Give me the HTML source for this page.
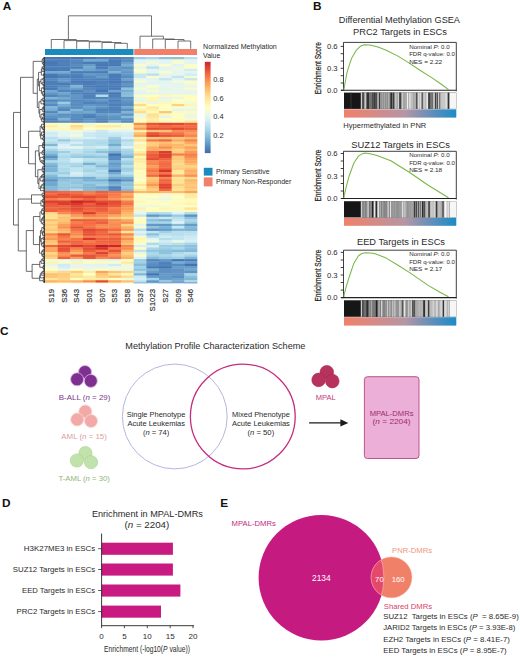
<!DOCTYPE html>
<html><head><meta charset="utf-8"><style>
html,body{margin:0;padding:0;background:#fff;}
body{width:520px;height:657px;overflow:hidden;}
svg{display:block;font-family:"Liberation Sans",sans-serif;}
</style></head><body>
<svg width="520" height="657" viewBox="0 0 520 657" font-family="Liberation Sans, sans-serif">
<rect width="520" height="657" fill="#fff"/>
<defs>
<linearGradient id="cb" x1="0" y1="1" x2="0" y2="0">
<stop offset="0.000" stop-color="#4168ae"/>
<stop offset="0.050" stop-color="#4f81ba"/>
<stop offset="0.100" stop-color="#6399c7"/>
<stop offset="0.150" stop-color="#77b0d2"/>
<stop offset="0.200" stop-color="#8ec2dd"/>
<stop offset="0.250" stop-color="#a6d5e7"/>
<stop offset="0.300" stop-color="#bce1ee"/>
<stop offset="0.350" stop-color="#d2ecf4"/>
<stop offset="0.400" stop-color="#e5f5ef"/>
<stop offset="0.450" stop-color="#f2fad7"/>
<stop offset="0.500" stop-color="#ffffbf"/>
<stop offset="0.550" stop-color="#fff2ab"/>
<stop offset="0.600" stop-color="#fee598"/>
<stop offset="0.650" stop-color="#fed384"/>
<stop offset="0.700" stop-color="#fdbe70"/>
<stop offset="0.750" stop-color="#fca85e"/>
<stop offset="0.800" stop-color="#f88c51"/>
<stop offset="0.850" stop-color="#f57145"/>
<stop offset="0.900" stop-color="#ea5739"/>
<stop offset="0.950" stop-color="#dd3d2d"/>
<stop offset="1.000" stop-color="#cd2627"/>
</linearGradient>
<linearGradient id="gs" x1="0" y1="0" x2="1" y2="0"><stop offset="0" stop-color="#f0806a"/><stop offset="0.25" stop-color="#d88a84"/><stop offset="0.55" stop-color="#b396a6"/><stop offset="0.8" stop-color="#5a8ebc"/><stop offset="1" stop-color="#1a8cc6"/></linearGradient>
<linearGradient id="bcbase" x1="0" y1="0" x2="1" y2="0"><stop offset="0" stop-color="#6a6a6a"/><stop offset="0.45" stop-color="#9a9a9a"/><stop offset="1" stop-color="#cfcfcf"/></linearGradient>
<filter id="soft" x="-2%" y="-2%" width="104%" height="104%"><feGaussianBlur stdDeviation="0.45"/></filter>
<filter id="soft2" x="-2%" y="-2%" width="104%" height="104%"><feGaussianBlur stdDeviation="0.35"/></filter>
<clipPath id="cpE"><circle cx="321.3" cy="577.7" r="62.7"/></clipPath>
<clipPath id="cpS"><circle cx="391.5" cy="577.35" r="20.4"/></clipPath>
</defs>
<text x="2.8" y="9.6" font-size="11.80" text-anchor="start" fill="#111" font-weight="bold">A</text>
<path d="M68.4,39.5 V15.8 H151.5 V36.2" fill="none" stroke="#444" stroke-width="0.75"/>
<path d="M114.7,48.8 V43.3 H127.3 V48.8" fill="none" stroke="#444" stroke-width="0.75"/>
<path d="M102.0,48.8 V42.5 H121.0 V43.3" fill="none" stroke="#444" stroke-width="0.75"/>
<path d="M89.3,48.8 V41.8 H111.5 V42.5" fill="none" stroke="#444" stroke-width="0.75"/>
<path d="M76.7,48.8 V41.2 H100.4 V41.8" fill="none" stroke="#444" stroke-width="0.75"/>
<path d="M64.0,48.8 V40.6 H88.5 V41.2" fill="none" stroke="#444" stroke-width="0.75"/>
<path d="M51.3,48.8 V39.5 H76.3 V40.6" fill="none" stroke="#444" stroke-width="0.75"/>
<path d="M140.0,48.8 V36.2 H163.4 V39.0" fill="none" stroke="#444" stroke-width="0.75"/>
<path d="M152.7,48.8 V39.0 H174.5 V39.5" fill="none" stroke="#444" stroke-width="0.75"/>
<path d="M165.3,48.8 V39.5 H184.0 V41.0" fill="none" stroke="#444" stroke-width="0.75"/>
<path d="M178.0,48.8 V41.0 H190.7 V48.8" fill="none" stroke="#444" stroke-width="0.75"/>
<rect x="45" y="49" width="88.5" height="6" fill="#1a8bbf"/>
<rect x="134.2" y="49" width="62.8" height="6" fill="#f17f6a"/>
<g filter="url(#soft)">
<rect x="45.00" y="57.00" width="12.97" height="2.65" fill="#4677b5"/>
<rect x="57.67" y="57.00" width="12.97" height="2.65" fill="#4676b4"/>
<rect x="70.33" y="57.00" width="12.97" height="2.65" fill="#4472b2"/>
<rect x="83.00" y="57.00" width="12.97" height="2.65" fill="#4677b5"/>
<rect x="95.67" y="57.00" width="12.97" height="2.65" fill="#4f81ba"/>
<rect x="108.33" y="57.00" width="12.97" height="2.65" fill="#4b7cb7"/>
<rect x="121.00" y="57.00" width="12.97" height="2.65" fill="#5386bd"/>
<rect x="133.67" y="57.00" width="12.97" height="2.65" fill="#9bcde2"/>
<rect x="146.33" y="57.00" width="12.97" height="2.65" fill="#a8d6e7"/>
<rect x="159.00" y="57.00" width="12.97" height="2.65" fill="#90c3dd"/>
<rect x="171.67" y="57.00" width="12.97" height="2.65" fill="#8dc1dc"/>
<rect x="184.33" y="57.00" width="12.97" height="2.65" fill="#b6deec"/>
<rect x="45.00" y="59.35" width="12.97" height="2.65" fill="#4e7fb9"/>
<rect x="57.67" y="59.35" width="12.97" height="2.65" fill="#4d7eb9"/>
<rect x="70.33" y="59.35" width="12.97" height="2.65" fill="#578bbf"/>
<rect x="83.00" y="59.35" width="12.97" height="2.65" fill="#73acd1"/>
<rect x="95.67" y="59.35" width="12.97" height="2.65" fill="#70a8cf"/>
<rect x="108.33" y="59.35" width="12.97" height="2.65" fill="#497ab7"/>
<rect x="121.00" y="59.35" width="12.97" height="2.65" fill="#5487bd"/>
<rect x="133.67" y="59.35" width="12.97" height="2.65" fill="#e2f4f3"/>
<rect x="146.33" y="59.35" width="12.97" height="2.65" fill="#e6f5ee"/>
<rect x="159.00" y="59.35" width="12.97" height="2.65" fill="#e5f5ef"/>
<rect x="171.67" y="59.35" width="12.97" height="2.65" fill="#f6fbd0"/>
<rect x="184.33" y="59.35" width="12.97" height="2.65" fill="#e6f5ed"/>
<rect x="45.00" y="61.70" width="12.97" height="2.65" fill="#4777b5"/>
<rect x="57.67" y="61.70" width="12.97" height="2.65" fill="#4f81ba"/>
<rect x="70.33" y="61.70" width="12.97" height="2.65" fill="#5284bc"/>
<rect x="83.00" y="61.70" width="12.97" height="2.65" fill="#4b7cb8"/>
<rect x="95.67" y="61.70" width="12.97" height="2.65" fill="#4a7bb7"/>
<rect x="108.33" y="61.70" width="12.97" height="2.65" fill="#4a7bb7"/>
<rect x="121.00" y="61.70" width="12.97" height="2.65" fill="#699fca"/>
<rect x="133.67" y="61.70" width="12.97" height="2.65" fill="#e5f5ef"/>
<rect x="146.33" y="61.70" width="12.97" height="2.65" fill="#f2fad7"/>
<rect x="159.00" y="61.70" width="12.97" height="2.65" fill="#e2f4f5"/>
<rect x="171.67" y="61.70" width="12.97" height="2.65" fill="#f5fbd2"/>
<rect x="184.33" y="61.70" width="12.97" height="2.65" fill="#e2f4f4"/>
<rect x="45.00" y="64.05" width="12.97" height="2.65" fill="#4677b5"/>
<rect x="57.67" y="64.05" width="12.97" height="2.65" fill="#4c7db8"/>
<rect x="70.33" y="64.05" width="12.97" height="2.65" fill="#578abf"/>
<rect x="83.00" y="64.05" width="12.97" height="2.65" fill="#649ac7"/>
<rect x="95.67" y="64.05" width="12.97" height="2.65" fill="#4676b4"/>
<rect x="108.33" y="64.05" width="12.97" height="2.65" fill="#4677b5"/>
<rect x="121.00" y="64.05" width="12.97" height="2.65" fill="#76aed2"/>
<rect x="133.67" y="64.05" width="12.97" height="2.65" fill="#fafdc9"/>
<rect x="146.33" y="64.05" width="12.97" height="2.65" fill="#e5f5ef"/>
<rect x="159.00" y="64.05" width="12.97" height="2.65" fill="#fdfec4"/>
<rect x="171.67" y="64.05" width="12.97" height="2.65" fill="#e1f3f6"/>
<rect x="184.33" y="64.05" width="12.97" height="2.65" fill="#fafdc8"/>
<rect x="45.00" y="66.40" width="12.97" height="2.65" fill="#4e80ba"/>
<rect x="57.67" y="66.40" width="12.97" height="2.65" fill="#4d7fb9"/>
<rect x="70.33" y="66.40" width="12.97" height="2.65" fill="#4c7eb8"/>
<rect x="83.00" y="66.40" width="12.97" height="2.65" fill="#72aad0"/>
<rect x="95.67" y="66.40" width="12.97" height="2.65" fill="#4879b6"/>
<rect x="108.33" y="66.40" width="12.97" height="2.65" fill="#649ac7"/>
<rect x="121.00" y="66.40" width="12.97" height="2.65" fill="#5c90c2"/>
<rect x="133.67" y="66.40" width="12.97" height="2.65" fill="#e6f5ed"/>
<rect x="146.33" y="66.40" width="12.97" height="2.65" fill="#bae1ed"/>
<rect x="159.00" y="66.40" width="12.97" height="2.65" fill="#e1f3f6"/>
<rect x="171.67" y="66.40" width="12.97" height="2.65" fill="#ebf7e4"/>
<rect x="184.33" y="66.40" width="12.97" height="2.65" fill="#fbfec6"/>
<rect x="45.00" y="68.75" width="12.97" height="2.65" fill="#4878b6"/>
<rect x="57.67" y="68.75" width="12.97" height="2.65" fill="#4c7db8"/>
<rect x="70.33" y="68.75" width="12.97" height="2.65" fill="#75aed1"/>
<rect x="83.00" y="68.75" width="12.97" height="2.65" fill="#6da4cc"/>
<rect x="95.67" y="68.75" width="12.97" height="2.65" fill="#6297c6"/>
<rect x="108.33" y="68.75" width="12.97" height="2.65" fill="#6197c6"/>
<rect x="121.00" y="68.75" width="12.97" height="2.65" fill="#6ca3cc"/>
<rect x="133.67" y="68.75" width="12.97" height="2.65" fill="#f9fdc9"/>
<rect x="146.33" y="68.75" width="12.97" height="2.65" fill="#e6f5ed"/>
<rect x="159.00" y="68.75" width="12.97" height="2.65" fill="#e7f6ec"/>
<rect x="171.67" y="68.75" width="12.97" height="2.65" fill="#e9f6e8"/>
<rect x="184.33" y="68.75" width="12.97" height="2.65" fill="#d2ecf4"/>
<rect x="45.00" y="71.10" width="12.97" height="2.65" fill="#72abd0"/>
<rect x="57.67" y="71.10" width="12.97" height="2.65" fill="#73acd0"/>
<rect x="70.33" y="71.10" width="12.97" height="2.65" fill="#4b7cb7"/>
<rect x="83.00" y="71.10" width="12.97" height="2.65" fill="#4b7cb8"/>
<rect x="95.67" y="71.10" width="12.97" height="2.65" fill="#4a7bb7"/>
<rect x="108.33" y="71.10" width="12.97" height="2.65" fill="#79b1d3"/>
<rect x="121.00" y="71.10" width="12.97" height="2.65" fill="#6196c5"/>
<rect x="133.67" y="71.10" width="12.97" height="2.65" fill="#f8fccc"/>
<rect x="146.33" y="71.10" width="12.97" height="2.65" fill="#e3f4f2"/>
<rect x="159.00" y="71.10" width="12.97" height="2.65" fill="#fafdc7"/>
<rect x="171.67" y="71.10" width="12.97" height="2.65" fill="#e5f5ef"/>
<rect x="184.33" y="71.10" width="12.97" height="2.65" fill="#e2f4f4"/>
<rect x="45.00" y="73.45" width="12.97" height="2.65" fill="#497ab7"/>
<rect x="57.67" y="73.45" width="12.97" height="2.65" fill="#5689be"/>
<rect x="70.33" y="73.45" width="12.97" height="2.65" fill="#5082bb"/>
<rect x="83.00" y="73.45" width="12.97" height="2.65" fill="#6399c7"/>
<rect x="95.67" y="73.45" width="12.97" height="2.65" fill="#5e93c3"/>
<rect x="108.33" y="73.45" width="12.97" height="2.65" fill="#4a7bb7"/>
<rect x="121.00" y="73.45" width="12.97" height="2.65" fill="#6398c6"/>
<rect x="133.67" y="73.45" width="12.97" height="2.65" fill="#cae8f2"/>
<rect x="146.33" y="73.45" width="12.97" height="2.65" fill="#bae0ed"/>
<rect x="159.00" y="73.45" width="12.97" height="2.65" fill="#e6f5ec"/>
<rect x="171.67" y="73.45" width="12.97" height="2.65" fill="#e6f5ed"/>
<rect x="184.33" y="73.45" width="12.97" height="2.65" fill="#d2ecf4"/>
<rect x="45.00" y="75.80" width="12.97" height="2.65" fill="#4676b5"/>
<rect x="57.67" y="75.80" width="12.97" height="2.65" fill="#4d7eb9"/>
<rect x="70.33" y="75.80" width="12.97" height="2.65" fill="#4c7db8"/>
<rect x="83.00" y="75.80" width="12.97" height="2.65" fill="#5588be"/>
<rect x="95.67" y="75.80" width="12.97" height="2.65" fill="#669dc9"/>
<rect x="108.33" y="75.80" width="12.97" height="2.65" fill="#4b7cb8"/>
<rect x="121.00" y="75.80" width="12.97" height="2.65" fill="#598dc0"/>
<rect x="133.67" y="75.80" width="12.97" height="2.65" fill="#c8e7f1"/>
<rect x="146.33" y="75.80" width="12.97" height="2.65" fill="#fafdc9"/>
<rect x="159.00" y="75.80" width="12.97" height="2.65" fill="#e6f5ed"/>
<rect x="171.67" y="75.80" width="12.97" height="2.65" fill="#c3e5f0"/>
<rect x="184.33" y="75.80" width="12.97" height="2.65" fill="#f7fcce"/>
<rect x="45.00" y="78.15" width="12.97" height="2.65" fill="#5588be"/>
<rect x="57.67" y="78.15" width="12.97" height="2.65" fill="#6298c6"/>
<rect x="70.33" y="78.15" width="12.97" height="2.65" fill="#4f81ba"/>
<rect x="83.00" y="78.15" width="12.97" height="2.65" fill="#5183bb"/>
<rect x="95.67" y="78.15" width="12.97" height="2.65" fill="#4e80ba"/>
<rect x="108.33" y="78.15" width="12.97" height="2.65" fill="#4979b6"/>
<rect x="121.00" y="78.15" width="12.97" height="2.65" fill="#6ba2cb"/>
<rect x="133.67" y="78.15" width="12.97" height="2.65" fill="#e7f6eb"/>
<rect x="146.33" y="78.15" width="12.97" height="2.65" fill="#e3f4f2"/>
<rect x="159.00" y="78.15" width="12.97" height="2.65" fill="#c4e5f0"/>
<rect x="171.67" y="78.15" width="12.97" height="2.65" fill="#e1f3f7"/>
<rect x="184.33" y="78.15" width="12.97" height="2.65" fill="#c5e6f0"/>
<rect x="45.00" y="80.50" width="12.97" height="2.65" fill="#4d7fb9"/>
<rect x="57.67" y="80.50" width="12.97" height="2.65" fill="#6095c5"/>
<rect x="70.33" y="80.50" width="12.97" height="2.65" fill="#4a7bb7"/>
<rect x="83.00" y="80.50" width="12.97" height="2.65" fill="#4a7bb7"/>
<rect x="95.67" y="80.50" width="12.97" height="2.65" fill="#4e80ba"/>
<rect x="108.33" y="80.50" width="12.97" height="2.65" fill="#4777b5"/>
<rect x="121.00" y="80.50" width="12.97" height="2.65" fill="#5588be"/>
<rect x="133.67" y="80.50" width="12.97" height="2.65" fill="#f8fccb"/>
<rect x="146.33" y="80.50" width="12.97" height="2.65" fill="#e2f4f3"/>
<rect x="159.00" y="80.50" width="12.97" height="2.65" fill="#e4f4f1"/>
<rect x="171.67" y="80.50" width="12.97" height="2.65" fill="#f4fbd3"/>
<rect x="184.33" y="80.50" width="12.97" height="2.65" fill="#f9fdcb"/>
<rect x="45.00" y="82.85" width="12.97" height="2.65" fill="#4d7fb9"/>
<rect x="57.67" y="82.85" width="12.97" height="2.65" fill="#4a7bb7"/>
<rect x="70.33" y="82.85" width="12.97" height="2.65" fill="#5284bc"/>
<rect x="83.00" y="82.85" width="12.97" height="2.65" fill="#4b7db8"/>
<rect x="95.67" y="82.85" width="12.97" height="2.65" fill="#5183bb"/>
<rect x="108.33" y="82.85" width="12.97" height="2.65" fill="#5082bb"/>
<rect x="121.00" y="82.85" width="12.97" height="2.65" fill="#6095c5"/>
<rect x="133.67" y="82.85" width="12.97" height="2.65" fill="#e3f4f3"/>
<rect x="146.33" y="82.85" width="12.97" height="2.65" fill="#e4f4f2"/>
<rect x="159.00" y="82.85" width="12.97" height="2.65" fill="#e5f5ef"/>
<rect x="171.67" y="82.85" width="12.97" height="2.65" fill="#e2f4f4"/>
<rect x="184.33" y="82.85" width="12.97" height="2.65" fill="#f3fad5"/>
<rect x="45.00" y="85.20" width="12.97" height="2.65" fill="#4e80ba"/>
<rect x="57.67" y="85.20" width="12.97" height="2.65" fill="#5588be"/>
<rect x="70.33" y="85.20" width="12.97" height="2.65" fill="#7eb5d5"/>
<rect x="83.00" y="85.20" width="12.97" height="2.65" fill="#4c7db8"/>
<rect x="95.67" y="85.20" width="12.97" height="2.65" fill="#4777b5"/>
<rect x="108.33" y="85.20" width="12.97" height="2.65" fill="#4979b6"/>
<rect x="121.00" y="85.20" width="12.97" height="2.65" fill="#5689be"/>
<rect x="133.67" y="85.20" width="12.97" height="2.65" fill="#e6f5ec"/>
<rect x="146.33" y="85.20" width="12.97" height="2.65" fill="#fdfec2"/>
<rect x="159.00" y="85.20" width="12.97" height="2.65" fill="#e5f5ef"/>
<rect x="171.67" y="85.20" width="12.97" height="2.65" fill="#e3f4f3"/>
<rect x="184.33" y="85.20" width="12.97" height="2.65" fill="#e8f6e9"/>
<rect x="45.00" y="87.55" width="12.97" height="2.65" fill="#4879b6"/>
<rect x="57.67" y="87.55" width="12.97" height="2.65" fill="#649ac7"/>
<rect x="70.33" y="87.55" width="12.97" height="2.65" fill="#69a0ca"/>
<rect x="83.00" y="87.55" width="12.97" height="2.65" fill="#5486bd"/>
<rect x="95.67" y="87.55" width="12.97" height="2.65" fill="#5082bb"/>
<rect x="108.33" y="87.55" width="12.97" height="2.65" fill="#4a7bb7"/>
<rect x="121.00" y="87.55" width="12.97" height="2.65" fill="#8ec2dc"/>
<rect x="133.67" y="87.55" width="12.97" height="2.65" fill="#f6fccf"/>
<rect x="146.33" y="87.55" width="12.97" height="2.65" fill="#e9f7e7"/>
<rect x="159.00" y="87.55" width="12.97" height="2.65" fill="#e6f5ec"/>
<rect x="171.67" y="87.55" width="12.97" height="2.65" fill="#e9f6e8"/>
<rect x="184.33" y="87.55" width="12.97" height="2.65" fill="#f7fcce"/>
<rect x="45.00" y="89.90" width="12.97" height="2.65" fill="#72abd0"/>
<rect x="57.67" y="89.90" width="12.97" height="2.65" fill="#5285bc"/>
<rect x="70.33" y="89.90" width="12.97" height="2.65" fill="#4f81ba"/>
<rect x="83.00" y="89.90" width="12.97" height="2.65" fill="#5e92c3"/>
<rect x="95.67" y="89.90" width="12.97" height="2.65" fill="#4575b4"/>
<rect x="108.33" y="89.90" width="12.97" height="2.65" fill="#6ca4cc"/>
<rect x="121.00" y="89.90" width="12.97" height="2.65" fill="#76aed2"/>
<rect x="133.67" y="89.90" width="12.97" height="2.65" fill="#e7f6eb"/>
<rect x="146.33" y="89.90" width="12.97" height="2.65" fill="#f8fccc"/>
<rect x="159.00" y="89.90" width="12.97" height="2.65" fill="#e8f6e9"/>
<rect x="171.67" y="89.90" width="12.97" height="2.65" fill="#e7f6eb"/>
<rect x="184.33" y="89.90" width="12.97" height="2.65" fill="#e5f5ef"/>
<rect x="45.00" y="92.25" width="12.97" height="2.65" fill="#5f94c4"/>
<rect x="57.67" y="92.25" width="12.97" height="2.65" fill="#6fa7ce"/>
<rect x="70.33" y="92.25" width="12.97" height="2.65" fill="#5184bc"/>
<rect x="83.00" y="92.25" width="12.97" height="2.65" fill="#4d7fb9"/>
<rect x="95.67" y="92.25" width="12.97" height="2.65" fill="#5082bb"/>
<rect x="108.33" y="92.25" width="12.97" height="2.65" fill="#4576b4"/>
<rect x="121.00" y="92.25" width="12.97" height="2.65" fill="#84bad8"/>
<rect x="133.67" y="92.25" width="12.97" height="2.65" fill="#e0f3f7"/>
<rect x="146.33" y="92.25" width="12.97" height="2.65" fill="#e4f5f1"/>
<rect x="159.00" y="92.25" width="12.97" height="2.65" fill="#e5f5ee"/>
<rect x="171.67" y="92.25" width="12.97" height="2.65" fill="#e5f5f0"/>
<rect x="184.33" y="92.25" width="12.97" height="2.65" fill="#e2f4f4"/>
<rect x="45.00" y="94.60" width="12.97" height="2.65" fill="#5183bb"/>
<rect x="57.67" y="94.60" width="12.97" height="2.65" fill="#5f93c4"/>
<rect x="70.33" y="94.60" width="12.97" height="2.65" fill="#6298c6"/>
<rect x="83.00" y="94.60" width="12.97" height="2.65" fill="#4f81ba"/>
<rect x="95.67" y="94.60" width="12.97" height="2.65" fill="#b0dceb"/>
<rect x="108.33" y="94.60" width="12.97" height="2.65" fill="#4e80ba"/>
<rect x="121.00" y="94.60" width="12.97" height="2.65" fill="#8bbfdb"/>
<rect x="133.67" y="94.60" width="12.97" height="2.65" fill="#fffdbb"/>
<rect x="146.33" y="94.60" width="12.97" height="2.65" fill="#ffffbf"/>
<rect x="159.00" y="94.60" width="12.97" height="2.65" fill="#fff9b6"/>
<rect x="171.67" y="94.60" width="12.97" height="2.65" fill="#fffcbb"/>
<rect x="184.33" y="94.60" width="12.97" height="2.65" fill="#fffcba"/>
<rect x="45.00" y="96.95" width="12.97" height="2.65" fill="#80b7d6"/>
<rect x="57.67" y="96.95" width="12.97" height="2.65" fill="#72abd0"/>
<rect x="70.33" y="96.95" width="12.97" height="2.65" fill="#5f94c4"/>
<rect x="83.00" y="96.95" width="12.97" height="2.65" fill="#5183bb"/>
<rect x="95.67" y="96.95" width="12.97" height="2.65" fill="#5386bd"/>
<rect x="108.33" y="96.95" width="12.97" height="2.65" fill="#5689be"/>
<rect x="121.00" y="96.95" width="12.97" height="2.65" fill="#5e93c4"/>
<rect x="133.67" y="96.95" width="12.97" height="2.65" fill="#eef8de"/>
<rect x="146.33" y="96.95" width="12.97" height="2.65" fill="#fff8b4"/>
<rect x="159.00" y="96.95" width="12.97" height="2.65" fill="#e3f4f3"/>
<rect x="171.67" y="96.95" width="12.97" height="2.65" fill="#eaf7e5"/>
<rect x="184.33" y="96.95" width="12.97" height="2.65" fill="#fffebd"/>
<rect x="45.00" y="99.30" width="12.97" height="2.65" fill="#5385bc"/>
<rect x="57.67" y="99.30" width="12.97" height="2.65" fill="#5b90c2"/>
<rect x="70.33" y="99.30" width="12.97" height="2.65" fill="#5588be"/>
<rect x="83.00" y="99.30" width="12.97" height="2.65" fill="#5b8fc1"/>
<rect x="95.67" y="99.30" width="12.97" height="2.65" fill="#6499c7"/>
<rect x="108.33" y="99.30" width="12.97" height="2.65" fill="#4c7eb8"/>
<rect x="121.00" y="99.30" width="12.97" height="2.65" fill="#5f94c4"/>
<rect x="133.67" y="99.30" width="12.97" height="2.65" fill="#e6f5ee"/>
<rect x="146.33" y="99.30" width="12.97" height="2.65" fill="#fff5b0"/>
<rect x="159.00" y="99.30" width="12.97" height="2.65" fill="#e9f7e7"/>
<rect x="171.67" y="99.30" width="12.97" height="2.65" fill="#fdfec3"/>
<rect x="184.33" y="99.30" width="12.97" height="2.65" fill="#fffdbc"/>
<rect x="45.00" y="101.65" width="12.97" height="2.65" fill="#679dc9"/>
<rect x="57.67" y="101.65" width="12.97" height="2.65" fill="#9bcce2"/>
<rect x="70.33" y="101.65" width="12.97" height="2.65" fill="#5b8fc2"/>
<rect x="83.00" y="101.65" width="12.97" height="2.65" fill="#5082bb"/>
<rect x="95.67" y="101.65" width="12.97" height="2.65" fill="#5386bd"/>
<rect x="108.33" y="101.65" width="12.97" height="2.65" fill="#5588be"/>
<rect x="121.00" y="101.65" width="12.97" height="2.65" fill="#5b90c2"/>
<rect x="133.67" y="101.65" width="12.97" height="2.65" fill="#fffbb9"/>
<rect x="146.33" y="101.65" width="12.97" height="2.65" fill="#e8f6ea"/>
<rect x="159.00" y="101.65" width="12.97" height="2.65" fill="#fff7b3"/>
<rect x="171.67" y="101.65" width="12.97" height="2.65" fill="#fffdbb"/>
<rect x="184.33" y="101.65" width="12.97" height="2.65" fill="#eff9dd"/>
<rect x="45.00" y="104.00" width="12.97" height="2.65" fill="#5689bf"/>
<rect x="57.67" y="104.00" width="12.97" height="2.65" fill="#75aed2"/>
<rect x="70.33" y="104.00" width="12.97" height="2.65" fill="#598dc0"/>
<rect x="83.00" y="104.00" width="12.97" height="2.65" fill="#6196c5"/>
<rect x="95.67" y="104.00" width="12.97" height="2.65" fill="#5c91c2"/>
<rect x="108.33" y="104.00" width="12.97" height="2.65" fill="#4d7fb9"/>
<rect x="121.00" y="104.00" width="12.97" height="2.65" fill="#588cc0"/>
<rect x="133.67" y="104.00" width="12.97" height="2.65" fill="#fedb8b"/>
<rect x="146.33" y="104.00" width="12.97" height="2.65" fill="#fffebd"/>
<rect x="159.00" y="104.00" width="12.97" height="2.65" fill="#fffdbc"/>
<rect x="171.67" y="104.00" width="12.97" height="2.65" fill="#fed283"/>
<rect x="184.33" y="104.00" width="12.97" height="2.65" fill="#fff7b3"/>
<rect x="45.00" y="106.35" width="12.97" height="2.65" fill="#82b9d7"/>
<rect x="57.67" y="106.35" width="12.97" height="2.65" fill="#5f94c4"/>
<rect x="70.33" y="106.35" width="12.97" height="2.65" fill="#5689be"/>
<rect x="83.00" y="106.35" width="12.97" height="2.65" fill="#6ca3cc"/>
<rect x="95.67" y="106.35" width="12.97" height="2.65" fill="#5f94c4"/>
<rect x="108.33" y="106.35" width="12.97" height="2.65" fill="#4f81ba"/>
<rect x="121.00" y="106.35" width="12.97" height="2.65" fill="#74add1"/>
<rect x="133.67" y="106.35" width="12.97" height="2.65" fill="#fbfdc6"/>
<rect x="146.33" y="106.35" width="12.97" height="2.65" fill="#fee89c"/>
<rect x="159.00" y="106.35" width="12.97" height="2.65" fill="#fafdc8"/>
<rect x="171.67" y="106.35" width="12.97" height="2.65" fill="#f7fccd"/>
<rect x="184.33" y="106.35" width="12.97" height="2.65" fill="#f2fad7"/>
<rect x="45.00" y="108.70" width="12.97" height="2.65" fill="#75aed2"/>
<rect x="57.67" y="108.70" width="12.97" height="2.65" fill="#5487bd"/>
<rect x="70.33" y="108.70" width="12.97" height="2.65" fill="#82b8d7"/>
<rect x="83.00" y="108.70" width="12.97" height="2.65" fill="#6499c7"/>
<rect x="95.67" y="108.70" width="12.97" height="2.65" fill="#5183bb"/>
<rect x="108.33" y="108.70" width="12.97" height="2.65" fill="#5082bb"/>
<rect x="121.00" y="108.70" width="12.97" height="2.65" fill="#5c90c2"/>
<rect x="133.67" y="108.70" width="12.97" height="2.65" fill="#feefa7"/>
<rect x="146.33" y="108.70" width="12.97" height="2.65" fill="#fff1aa"/>
<rect x="159.00" y="108.70" width="12.97" height="2.65" fill="#fffebd"/>
<rect x="171.67" y="108.70" width="12.97" height="2.65" fill="#e3f4f2"/>
<rect x="184.33" y="108.70" width="12.97" height="2.65" fill="#ebf7e3"/>
<rect x="45.00" y="111.05" width="12.97" height="2.65" fill="#5487bd"/>
<rect x="57.67" y="111.05" width="12.97" height="2.65" fill="#85bad8"/>
<rect x="70.33" y="111.05" width="12.97" height="2.65" fill="#6ba2cb"/>
<rect x="83.00" y="111.05" width="12.97" height="2.65" fill="#72abd0"/>
<rect x="95.67" y="111.05" width="12.97" height="2.65" fill="#5184bc"/>
<rect x="108.33" y="111.05" width="12.97" height="2.65" fill="#5285bc"/>
<rect x="121.00" y="111.05" width="12.97" height="2.65" fill="#7eb5d5"/>
<rect x="133.67" y="111.05" width="12.97" height="2.65" fill="#fedc8d"/>
<rect x="146.33" y="111.05" width="12.97" height="2.65" fill="#fffab8"/>
<rect x="159.00" y="111.05" width="12.97" height="2.65" fill="#fdc577"/>
<rect x="171.67" y="111.05" width="12.97" height="2.65" fill="#fffab8"/>
<rect x="184.33" y="111.05" width="12.97" height="2.65" fill="#fffab7"/>
<rect x="45.00" y="113.40" width="12.97" height="2.65" fill="#69a0ca"/>
<rect x="57.67" y="113.40" width="12.97" height="2.65" fill="#5c91c2"/>
<rect x="70.33" y="113.40" width="12.97" height="2.65" fill="#598dc1"/>
<rect x="83.00" y="113.40" width="12.97" height="2.65" fill="#5285bc"/>
<rect x="95.67" y="113.40" width="12.97" height="2.65" fill="#669dc8"/>
<rect x="108.33" y="113.40" width="12.97" height="2.65" fill="#6da5cd"/>
<rect x="121.00" y="113.40" width="12.97" height="2.65" fill="#5e92c3"/>
<rect x="133.67" y="113.40" width="12.97" height="2.65" fill="#ecf8e1"/>
<rect x="146.33" y="113.40" width="12.97" height="2.65" fill="#fee292"/>
<rect x="159.00" y="113.40" width="12.97" height="2.65" fill="#fff9b6"/>
<rect x="171.67" y="113.40" width="12.97" height="2.65" fill="#f9fdc9"/>
<rect x="184.33" y="113.40" width="12.97" height="2.65" fill="#ecf8e1"/>
<rect x="45.00" y="115.75" width="12.97" height="2.65" fill="#5e93c3"/>
<rect x="57.67" y="115.75" width="12.97" height="2.65" fill="#6297c6"/>
<rect x="70.33" y="115.75" width="12.97" height="2.65" fill="#5a8ec1"/>
<rect x="83.00" y="115.75" width="12.97" height="2.65" fill="#4e80ba"/>
<rect x="95.67" y="115.75" width="12.97" height="2.65" fill="#5a8ec1"/>
<rect x="108.33" y="115.75" width="12.97" height="2.65" fill="#5f94c4"/>
<rect x="121.00" y="115.75" width="12.97" height="2.65" fill="#87bcd9"/>
<rect x="133.67" y="115.75" width="12.97" height="2.65" fill="#edf8e0"/>
<rect x="146.33" y="115.75" width="12.97" height="2.65" fill="#fee598"/>
<rect x="159.00" y="115.75" width="12.97" height="2.65" fill="#e4f5f1"/>
<rect x="171.67" y="115.75" width="12.97" height="2.65" fill="#fffdbc"/>
<rect x="184.33" y="115.75" width="12.97" height="2.65" fill="#e9f6e8"/>
<rect x="45.00" y="118.10" width="12.97" height="2.65" fill="#5082bb"/>
<rect x="57.67" y="118.10" width="12.97" height="2.65" fill="#7cb3d5"/>
<rect x="70.33" y="118.10" width="12.97" height="2.65" fill="#5487bd"/>
<rect x="83.00" y="118.10" width="12.97" height="2.65" fill="#6095c4"/>
<rect x="95.67" y="118.10" width="12.97" height="2.65" fill="#5487be"/>
<rect x="108.33" y="118.10" width="12.97" height="2.65" fill="#5a8ec1"/>
<rect x="121.00" y="118.10" width="12.97" height="2.65" fill="#5e93c3"/>
<rect x="133.67" y="118.10" width="12.97" height="2.65" fill="#fffcba"/>
<rect x="146.33" y="118.10" width="12.97" height="2.65" fill="#feefa7"/>
<rect x="159.00" y="118.10" width="12.97" height="2.65" fill="#fcfec4"/>
<rect x="171.67" y="118.10" width="12.97" height="2.65" fill="#fffcba"/>
<rect x="184.33" y="118.10" width="12.97" height="2.65" fill="#f3fad6"/>
<rect x="45.00" y="120.45" width="12.97" height="2.65" fill="#5284bc"/>
<rect x="57.67" y="120.45" width="12.97" height="2.65" fill="#598dc1"/>
<rect x="70.33" y="120.45" width="12.97" height="2.65" fill="#588bbf"/>
<rect x="83.00" y="120.45" width="12.97" height="2.65" fill="#6399c6"/>
<rect x="95.67" y="120.45" width="12.97" height="2.65" fill="#5184bc"/>
<rect x="108.33" y="120.45" width="12.97" height="2.65" fill="#77b0d3"/>
<rect x="121.00" y="120.45" width="12.97" height="2.65" fill="#588cc0"/>
<rect x="133.67" y="120.45" width="12.97" height="2.65" fill="#fefec1"/>
<rect x="146.33" y="120.45" width="12.97" height="2.65" fill="#feea9f"/>
<rect x="159.00" y="120.45" width="12.97" height="2.65" fill="#fff6b1"/>
<rect x="171.67" y="120.45" width="12.97" height="2.65" fill="#fffcba"/>
<rect x="184.33" y="120.45" width="12.97" height="2.65" fill="#feeba0"/>
<rect x="45.00" y="122.80" width="12.97" height="2.65" fill="#fffcbb"/>
<rect x="57.67" y="122.80" width="12.97" height="2.65" fill="#fffdbc"/>
<rect x="70.33" y="122.80" width="12.97" height="2.65" fill="#fff9b6"/>
<rect x="83.00" y="122.80" width="12.97" height="2.65" fill="#edf8e1"/>
<rect x="95.67" y="122.80" width="12.97" height="2.65" fill="#feffc1"/>
<rect x="108.33" y="122.80" width="12.97" height="2.65" fill="#f9fdca"/>
<rect x="121.00" y="122.80" width="12.97" height="2.65" fill="#f8fccc"/>
<rect x="133.67" y="122.80" width="12.97" height="2.65" fill="#f88a50"/>
<rect x="146.33" y="122.80" width="12.97" height="2.65" fill="#e75236"/>
<rect x="159.00" y="122.80" width="12.97" height="2.65" fill="#e14531"/>
<rect x="171.67" y="122.80" width="12.97" height="2.65" fill="#e34832"/>
<rect x="184.33" y="122.80" width="12.97" height="2.65" fill="#ec5c3b"/>
<rect x="45.00" y="125.15" width="12.97" height="2.65" fill="#feefa7"/>
<rect x="57.67" y="125.15" width="12.97" height="2.65" fill="#f5fbd1"/>
<rect x="70.33" y="125.15" width="12.97" height="2.65" fill="#fed888"/>
<rect x="83.00" y="125.15" width="12.97" height="2.65" fill="#fff5b0"/>
<rect x="95.67" y="125.15" width="12.97" height="2.65" fill="#feeda3"/>
<rect x="108.33" y="125.15" width="12.97" height="2.65" fill="#feeba0"/>
<rect x="121.00" y="125.15" width="12.97" height="2.65" fill="#fff9b6"/>
<rect x="133.67" y="125.15" width="12.97" height="2.65" fill="#fdc071"/>
<rect x="146.33" y="125.15" width="12.97" height="2.65" fill="#f46d43"/>
<rect x="159.00" y="125.15" width="12.97" height="2.65" fill="#f0653f"/>
<rect x="171.67" y="125.15" width="12.97" height="2.65" fill="#f46f44"/>
<rect x="184.33" y="125.15" width="12.97" height="2.65" fill="#f36b42"/>
<rect x="45.00" y="127.50" width="12.97" height="2.65" fill="#fffab7"/>
<rect x="57.67" y="127.50" width="12.97" height="2.65" fill="#fff9b6"/>
<rect x="70.33" y="127.50" width="12.97" height="2.65" fill="#fee99e"/>
<rect x="83.00" y="127.50" width="12.97" height="2.65" fill="#feffc0"/>
<rect x="95.67" y="127.50" width="12.97" height="2.65" fill="#fffab8"/>
<rect x="108.33" y="127.50" width="12.97" height="2.65" fill="#f8fccc"/>
<rect x="121.00" y="127.50" width="12.97" height="2.65" fill="#f2fad8"/>
<rect x="133.67" y="127.50" width="12.97" height="2.65" fill="#fa9957"/>
<rect x="146.33" y="127.50" width="12.97" height="2.65" fill="#e54e35"/>
<rect x="159.00" y="127.50" width="12.97" height="2.65" fill="#e85437"/>
<rect x="171.67" y="127.50" width="12.97" height="2.65" fill="#e14631"/>
<rect x="184.33" y="127.50" width="12.97" height="2.65" fill="#ec5b3b"/>
<rect x="45.00" y="129.85" width="12.97" height="2.65" fill="#e3f4f3"/>
<rect x="57.67" y="129.85" width="12.97" height="2.65" fill="#edf8e1"/>
<rect x="70.33" y="129.85" width="12.97" height="2.65" fill="#eef9dd"/>
<rect x="83.00" y="129.85" width="12.97" height="2.65" fill="#e3f4f3"/>
<rect x="95.67" y="129.85" width="12.97" height="2.65" fill="#cbe9f2"/>
<rect x="108.33" y="129.85" width="12.97" height="2.65" fill="#e4f5f1"/>
<rect x="121.00" y="129.85" width="12.97" height="2.65" fill="#e4f5f1"/>
<rect x="133.67" y="129.85" width="12.97" height="2.65" fill="#feefa6"/>
<rect x="146.33" y="129.85" width="12.97" height="2.65" fill="#fdbf71"/>
<rect x="159.00" y="129.85" width="12.97" height="2.65" fill="#fdc274"/>
<rect x="171.67" y="129.85" width="12.97" height="2.65" fill="#f88c51"/>
<rect x="184.33" y="129.85" width="12.97" height="2.65" fill="#f88d52"/>
<rect x="45.00" y="132.20" width="12.97" height="2.65" fill="#cbe9f2"/>
<rect x="57.67" y="132.20" width="12.97" height="2.65" fill="#e1f3f6"/>
<rect x="70.33" y="132.20" width="12.97" height="2.65" fill="#e8f6e8"/>
<rect x="83.00" y="132.20" width="12.97" height="2.65" fill="#cce9f2"/>
<rect x="95.67" y="132.20" width="12.97" height="2.65" fill="#c4e5f0"/>
<rect x="108.33" y="132.20" width="12.97" height="2.65" fill="#cce9f2"/>
<rect x="121.00" y="132.20" width="12.97" height="2.65" fill="#d1ecf4"/>
<rect x="133.67" y="132.20" width="12.97" height="2.65" fill="#fdc072"/>
<rect x="146.33" y="132.20" width="12.97" height="2.65" fill="#e75237"/>
<rect x="159.00" y="132.20" width="12.97" height="2.65" fill="#f46d43"/>
<rect x="171.67" y="132.20" width="12.97" height="2.65" fill="#f57145"/>
<rect x="184.33" y="132.20" width="12.97" height="2.65" fill="#fa9857"/>
<rect x="45.00" y="134.55" width="12.97" height="2.65" fill="#d4edf5"/>
<rect x="57.67" y="134.55" width="12.97" height="2.65" fill="#e6f5ed"/>
<rect x="70.33" y="134.55" width="12.97" height="2.65" fill="#f1fad9"/>
<rect x="83.00" y="134.55" width="12.97" height="2.65" fill="#cbe9f2"/>
<rect x="95.67" y="134.55" width="12.97" height="2.65" fill="#c2e4ef"/>
<rect x="108.33" y="134.55" width="12.97" height="2.65" fill="#c3e5f0"/>
<rect x="121.00" y="134.55" width="12.97" height="2.65" fill="#cce9f2"/>
<rect x="133.67" y="134.55" width="12.97" height="2.65" fill="#fca85e"/>
<rect x="146.33" y="134.55" width="12.97" height="2.65" fill="#e0422f"/>
<rect x="159.00" y="134.55" width="12.97" height="2.65" fill="#e85337"/>
<rect x="171.67" y="134.55" width="12.97" height="2.65" fill="#ec5b3b"/>
<rect x="184.33" y="134.55" width="12.97" height="2.65" fill="#f7834d"/>
<rect x="45.00" y="136.90" width="12.97" height="2.65" fill="#b8dfed"/>
<rect x="57.67" y="136.90" width="12.97" height="2.65" fill="#cfebf3"/>
<rect x="70.33" y="136.90" width="12.97" height="2.65" fill="#d7eff5"/>
<rect x="83.00" y="136.90" width="12.97" height="2.65" fill="#daf0f6"/>
<rect x="95.67" y="136.90" width="12.97" height="2.65" fill="#c9e8f1"/>
<rect x="108.33" y="136.90" width="12.97" height="2.65" fill="#9ccde3"/>
<rect x="121.00" y="136.90" width="12.97" height="2.65" fill="#daf0f6"/>
<rect x="133.67" y="136.90" width="12.97" height="2.65" fill="#fff1aa"/>
<rect x="146.33" y="136.90" width="12.97" height="2.65" fill="#fdc778"/>
<rect x="159.00" y="136.90" width="12.97" height="2.65" fill="#fdc273"/>
<rect x="171.67" y="136.90" width="12.97" height="2.65" fill="#fec97b"/>
<rect x="184.33" y="136.90" width="12.97" height="2.65" fill="#fdb96b"/>
<rect x="45.00" y="139.25" width="12.97" height="2.65" fill="#c1e4ef"/>
<rect x="57.67" y="139.25" width="12.97" height="2.65" fill="#97c9e0"/>
<rect x="70.33" y="139.25" width="12.97" height="2.65" fill="#bae0ed"/>
<rect x="83.00" y="139.25" width="12.97" height="2.65" fill="#b1dceb"/>
<rect x="95.67" y="139.25" width="12.97" height="2.65" fill="#b3ddeb"/>
<rect x="108.33" y="139.25" width="12.97" height="2.65" fill="#89beda"/>
<rect x="121.00" y="139.25" width="12.97" height="2.65" fill="#acd9e9"/>
<rect x="133.67" y="139.25" width="12.97" height="2.65" fill="#fee090"/>
<rect x="146.33" y="139.25" width="12.97" height="2.65" fill="#f67848"/>
<rect x="159.00" y="139.25" width="12.97" height="2.65" fill="#f16841"/>
<rect x="171.67" y="139.25" width="12.97" height="2.65" fill="#fca85e"/>
<rect x="184.33" y="139.25" width="12.97" height="2.65" fill="#f7804c"/>
<rect x="45.00" y="141.60" width="12.97" height="2.65" fill="#b1dceb"/>
<rect x="57.67" y="141.60" width="12.97" height="2.65" fill="#c4e5f0"/>
<rect x="70.33" y="141.60" width="12.97" height="2.65" fill="#d6eef5"/>
<rect x="83.00" y="141.60" width="12.97" height="2.65" fill="#b5deec"/>
<rect x="95.67" y="141.60" width="12.97" height="2.65" fill="#addaea"/>
<rect x="108.33" y="141.60" width="12.97" height="2.65" fill="#8ec2dd"/>
<rect x="121.00" y="141.60" width="12.97" height="2.65" fill="#c4e5f0"/>
<rect x="133.67" y="141.60" width="12.97" height="2.65" fill="#f6fbd0"/>
<rect x="146.33" y="141.60" width="12.97" height="2.65" fill="#fecd7e"/>
<rect x="159.00" y="141.60" width="12.97" height="2.65" fill="#fdc274"/>
<rect x="171.67" y="141.60" width="12.97" height="2.65" fill="#fed081"/>
<rect x="184.33" y="141.60" width="12.97" height="2.65" fill="#fcaa5f"/>
<rect x="45.00" y="143.95" width="12.97" height="2.65" fill="#82b8d7"/>
<rect x="57.67" y="143.95" width="12.97" height="2.65" fill="#daf0f6"/>
<rect x="70.33" y="143.95" width="12.97" height="2.65" fill="#b8dfed"/>
<rect x="83.00" y="143.95" width="12.97" height="2.65" fill="#b2ddeb"/>
<rect x="95.67" y="143.95" width="12.97" height="2.65" fill="#b5deec"/>
<rect x="108.33" y="143.95" width="12.97" height="2.65" fill="#73abd0"/>
<rect x="121.00" y="143.95" width="12.97" height="2.65" fill="#bfe3ef"/>
<rect x="133.67" y="143.95" width="12.97" height="2.65" fill="#fff4ae"/>
<rect x="146.33" y="143.95" width="12.97" height="2.65" fill="#fece7f"/>
<rect x="159.00" y="143.95" width="12.97" height="2.65" fill="#fdb163"/>
<rect x="171.67" y="143.95" width="12.97" height="2.65" fill="#fdb86a"/>
<rect x="184.33" y="143.95" width="12.97" height="2.65" fill="#fdc576"/>
<rect x="45.00" y="146.30" width="12.97" height="2.65" fill="#cae8f2"/>
<rect x="57.67" y="146.30" width="12.97" height="2.65" fill="#dff3f8"/>
<rect x="70.33" y="146.30" width="12.97" height="2.65" fill="#eaf7e6"/>
<rect x="83.00" y="146.30" width="12.97" height="2.65" fill="#cbe8f2"/>
<rect x="95.67" y="146.30" width="12.97" height="2.65" fill="#d6eef5"/>
<rect x="108.33" y="146.30" width="12.97" height="2.65" fill="#9dcee3"/>
<rect x="121.00" y="146.30" width="12.97" height="2.65" fill="#def2f7"/>
<rect x="133.67" y="146.30" width="12.97" height="2.65" fill="#fff4af"/>
<rect x="146.33" y="146.30" width="12.97" height="2.65" fill="#fdac60"/>
<rect x="159.00" y="146.30" width="12.97" height="2.65" fill="#f88a50"/>
<rect x="171.67" y="146.30" width="12.97" height="2.65" fill="#fdb86b"/>
<rect x="184.33" y="146.30" width="12.97" height="2.65" fill="#fba05a"/>
<rect x="45.00" y="148.65" width="12.97" height="2.65" fill="#a5d4e6"/>
<rect x="57.67" y="148.65" width="12.97" height="2.65" fill="#c5e6f0"/>
<rect x="70.33" y="148.65" width="12.97" height="2.65" fill="#c3e5f0"/>
<rect x="83.00" y="148.65" width="12.97" height="2.65" fill="#b5deec"/>
<rect x="95.67" y="148.65" width="12.97" height="2.65" fill="#a7d6e7"/>
<rect x="108.33" y="148.65" width="12.97" height="2.65" fill="#96c8e0"/>
<rect x="121.00" y="148.65" width="12.97" height="2.65" fill="#acdae9"/>
<rect x="133.67" y="148.65" width="12.97" height="2.65" fill="#fffcbb"/>
<rect x="146.33" y="148.65" width="12.97" height="2.65" fill="#fdae61"/>
<rect x="159.00" y="148.65" width="12.97" height="2.65" fill="#fdba6c"/>
<rect x="171.67" y="148.65" width="12.97" height="2.65" fill="#fed383"/>
<rect x="184.33" y="148.65" width="12.97" height="2.65" fill="#fdb96b"/>
<rect x="45.00" y="151.00" width="12.97" height="2.65" fill="#90c4dd"/>
<rect x="57.67" y="151.00" width="12.97" height="2.65" fill="#9fcfe4"/>
<rect x="70.33" y="151.00" width="12.97" height="2.65" fill="#c2e4f0"/>
<rect x="83.00" y="151.00" width="12.97" height="2.65" fill="#a9d8e8"/>
<rect x="95.67" y="151.00" width="12.97" height="2.65" fill="#8cc0dc"/>
<rect x="108.33" y="151.00" width="12.97" height="2.65" fill="#76afd2"/>
<rect x="121.00" y="151.00" width="12.97" height="2.65" fill="#a2d2e5"/>
<rect x="133.67" y="151.00" width="12.97" height="2.65" fill="#feefa7"/>
<rect x="146.33" y="151.00" width="12.97" height="2.65" fill="#f36c42"/>
<rect x="159.00" y="151.00" width="12.97" height="2.65" fill="#de3e2d"/>
<rect x="171.67" y="151.00" width="12.97" height="2.65" fill="#fecc7d"/>
<rect x="184.33" y="151.00" width="12.97" height="2.65" fill="#fa9957"/>
<rect x="45.00" y="153.35" width="12.97" height="2.65" fill="#78b1d3"/>
<rect x="57.67" y="153.35" width="12.97" height="2.65" fill="#b8e0ed"/>
<rect x="70.33" y="153.35" width="12.97" height="2.65" fill="#a8d6e8"/>
<rect x="83.00" y="153.35" width="12.97" height="2.65" fill="#a8d7e8"/>
<rect x="95.67" y="153.35" width="12.97" height="2.65" fill="#b2ddeb"/>
<rect x="108.33" y="153.35" width="12.97" height="2.65" fill="#4472b2"/>
<rect x="121.00" y="153.35" width="12.97" height="2.65" fill="#95c7df"/>
<rect x="133.67" y="153.35" width="12.97" height="2.65" fill="#fed283"/>
<rect x="146.33" y="153.35" width="12.97" height="2.65" fill="#eb5a3a"/>
<rect x="159.00" y="153.35" width="12.97" height="2.65" fill="#de3f2e"/>
<rect x="171.67" y="153.35" width="12.97" height="2.65" fill="#f67e4b"/>
<rect x="184.33" y="153.35" width="12.97" height="2.65" fill="#f67c4a"/>
<rect x="45.00" y="155.70" width="12.97" height="2.65" fill="#5c91c2"/>
<rect x="57.67" y="155.70" width="12.97" height="2.65" fill="#abd9e9"/>
<rect x="70.33" y="155.70" width="12.97" height="2.65" fill="#9bcce2"/>
<rect x="83.00" y="155.70" width="12.97" height="2.65" fill="#90c4dd"/>
<rect x="95.67" y="155.70" width="12.97" height="2.65" fill="#96c9e0"/>
<rect x="108.33" y="155.70" width="12.97" height="2.65" fill="#588cc0"/>
<rect x="121.00" y="155.70" width="12.97" height="2.65" fill="#79b1d3"/>
<rect x="133.67" y="155.70" width="12.97" height="2.65" fill="#fff9b6"/>
<rect x="146.33" y="155.70" width="12.97" height="2.65" fill="#ee613d"/>
<rect x="159.00" y="155.70" width="12.97" height="2.65" fill="#e04330"/>
<rect x="171.67" y="155.70" width="12.97" height="2.65" fill="#feca7b"/>
<rect x="184.33" y="155.70" width="12.97" height="2.65" fill="#f88d52"/>
<rect x="45.00" y="158.05" width="12.97" height="2.65" fill="#75aed2"/>
<rect x="57.67" y="158.05" width="12.97" height="2.65" fill="#bae0ed"/>
<rect x="70.33" y="158.05" width="12.97" height="2.65" fill="#d6eef5"/>
<rect x="83.00" y="158.05" width="12.97" height="2.65" fill="#bee2ee"/>
<rect x="95.67" y="158.05" width="12.97" height="2.65" fill="#b6deec"/>
<rect x="108.33" y="158.05" width="12.97" height="2.65" fill="#568abf"/>
<rect x="121.00" y="158.05" width="12.97" height="2.65" fill="#b6deec"/>
<rect x="133.67" y="158.05" width="12.97" height="2.65" fill="#fee89c"/>
<rect x="146.33" y="158.05" width="12.97" height="2.65" fill="#e54d34"/>
<rect x="159.00" y="158.05" width="12.97" height="2.65" fill="#f0643f"/>
<rect x="171.67" y="158.05" width="12.97" height="2.65" fill="#fdc678"/>
<rect x="184.33" y="158.05" width="12.97" height="2.65" fill="#fba05a"/>
<rect x="45.00" y="160.40" width="12.97" height="2.65" fill="#b1dceb"/>
<rect x="57.67" y="160.40" width="12.97" height="2.65" fill="#b9e0ed"/>
<rect x="70.33" y="160.40" width="12.97" height="2.65" fill="#d3edf4"/>
<rect x="83.00" y="160.40" width="12.97" height="2.65" fill="#b2ddeb"/>
<rect x="95.67" y="160.40" width="12.97" height="2.65" fill="#b2dceb"/>
<rect x="108.33" y="160.40" width="12.97" height="2.65" fill="#74acd1"/>
<rect x="121.00" y="160.40" width="12.97" height="2.65" fill="#a2d2e5"/>
<rect x="133.67" y="160.40" width="12.97" height="2.65" fill="#feeea4"/>
<rect x="146.33" y="160.40" width="12.97" height="2.65" fill="#f88b51"/>
<rect x="159.00" y="160.40" width="12.97" height="2.65" fill="#f57346"/>
<rect x="171.67" y="160.40" width="12.97" height="2.65" fill="#fed081"/>
<rect x="184.33" y="160.40" width="12.97" height="2.65" fill="#fca55d"/>
<rect x="45.00" y="162.75" width="12.97" height="2.65" fill="#87bcd9"/>
<rect x="57.67" y="162.75" width="12.97" height="2.65" fill="#addaea"/>
<rect x="70.33" y="162.75" width="12.97" height="2.65" fill="#abd9e9"/>
<rect x="83.00" y="162.75" width="12.97" height="2.65" fill="#79b1d3"/>
<rect x="95.67" y="162.75" width="12.97" height="2.65" fill="#a2d2e5"/>
<rect x="108.33" y="162.75" width="12.97" height="2.65" fill="#659bc8"/>
<rect x="121.00" y="162.75" width="12.97" height="2.65" fill="#9acbe2"/>
<rect x="133.67" y="162.75" width="12.97" height="2.65" fill="#fff6b2"/>
<rect x="146.33" y="162.75" width="12.97" height="2.65" fill="#f7854e"/>
<rect x="159.00" y="162.75" width="12.97" height="2.65" fill="#f36a42"/>
<rect x="171.67" y="162.75" width="12.97" height="2.65" fill="#fedc8c"/>
<rect x="184.33" y="162.75" width="12.97" height="2.65" fill="#fdba6c"/>
<rect x="45.00" y="165.10" width="12.97" height="2.65" fill="#73acd1"/>
<rect x="57.67" y="165.10" width="12.97" height="2.65" fill="#b5deec"/>
<rect x="70.33" y="165.10" width="12.97" height="2.65" fill="#a2d2e5"/>
<rect x="83.00" y="165.10" width="12.97" height="2.65" fill="#abd9e9"/>
<rect x="95.67" y="165.10" width="12.97" height="2.65" fill="#86bbd9"/>
<rect x="108.33" y="165.10" width="12.97" height="2.65" fill="#6ba2cb"/>
<rect x="121.00" y="165.10" width="12.97" height="2.65" fill="#b5deec"/>
<rect x="133.67" y="165.10" width="12.97" height="2.65" fill="#fff7b3"/>
<rect x="146.33" y="165.10" width="12.97" height="2.65" fill="#fba15b"/>
<rect x="159.00" y="165.10" width="12.97" height="2.65" fill="#f36c43"/>
<rect x="171.67" y="165.10" width="12.97" height="2.65" fill="#fed484"/>
<rect x="184.33" y="165.10" width="12.97" height="2.65" fill="#fed081"/>
<rect x="45.00" y="167.45" width="12.97" height="2.65" fill="#7eb5d5"/>
<rect x="57.67" y="167.45" width="12.97" height="2.65" fill="#acdae9"/>
<rect x="70.33" y="167.45" width="12.97" height="2.65" fill="#c1e4ef"/>
<rect x="83.00" y="167.45" width="12.97" height="2.65" fill="#acdae9"/>
<rect x="95.67" y="167.45" width="12.97" height="2.65" fill="#a3d3e6"/>
<rect x="108.33" y="167.45" width="12.97" height="2.65" fill="#6ea6cd"/>
<rect x="121.00" y="167.45" width="12.97" height="2.65" fill="#9ccde2"/>
<rect x="133.67" y="167.45" width="12.97" height="2.65" fill="#fff1aa"/>
<rect x="146.33" y="167.45" width="12.97" height="2.65" fill="#f88950"/>
<rect x="159.00" y="167.45" width="12.97" height="2.65" fill="#ef633e"/>
<rect x="171.67" y="167.45" width="12.97" height="2.65" fill="#fecc7d"/>
<rect x="184.33" y="167.45" width="12.97" height="2.65" fill="#fdc475"/>
<rect x="45.00" y="169.80" width="12.97" height="2.65" fill="#7bb2d4"/>
<rect x="57.67" y="169.80" width="12.97" height="2.65" fill="#b0dbea"/>
<rect x="70.33" y="169.80" width="12.97" height="2.65" fill="#c2e4f0"/>
<rect x="83.00" y="169.80" width="12.97" height="2.65" fill="#a3d2e5"/>
<rect x="95.67" y="169.80" width="12.97" height="2.65" fill="#bae0ed"/>
<rect x="108.33" y="169.80" width="12.97" height="2.65" fill="#4879b6"/>
<rect x="121.00" y="169.80" width="12.97" height="2.65" fill="#a2d2e5"/>
<rect x="133.67" y="169.80" width="12.97" height="2.65" fill="#fbfec6"/>
<rect x="146.33" y="169.80" width="12.97" height="2.65" fill="#f57647"/>
<rect x="159.00" y="169.80" width="12.97" height="2.65" fill="#d93429"/>
<rect x="171.67" y="169.80" width="12.97" height="2.65" fill="#feea9e"/>
<rect x="184.33" y="169.80" width="12.97" height="2.65" fill="#fdac60"/>
<rect x="45.00" y="172.15" width="12.97" height="2.65" fill="#a1d1e5"/>
<rect x="57.67" y="172.15" width="12.97" height="2.65" fill="#9dcde3"/>
<rect x="70.33" y="172.15" width="12.97" height="2.65" fill="#d6eef5"/>
<rect x="83.00" y="172.15" width="12.97" height="2.65" fill="#b9e0ed"/>
<rect x="95.67" y="172.15" width="12.97" height="2.65" fill="#a9d8e8"/>
<rect x="108.33" y="172.15" width="12.97" height="2.65" fill="#6fa7ce"/>
<rect x="121.00" y="172.15" width="12.97" height="2.65" fill="#bde2ee"/>
<rect x="133.67" y="172.15" width="12.97" height="2.65" fill="#fffab7"/>
<rect x="146.33" y="172.15" width="12.97" height="2.65" fill="#f88950"/>
<rect x="159.00" y="172.15" width="12.97" height="2.65" fill="#f47044"/>
<rect x="171.67" y="172.15" width="12.97" height="2.65" fill="#feea9f"/>
<rect x="184.33" y="172.15" width="12.97" height="2.65" fill="#fdb366"/>
<rect x="45.00" y="174.50" width="12.97" height="2.65" fill="#86bbd9"/>
<rect x="57.67" y="174.50" width="12.97" height="2.65" fill="#b9e0ed"/>
<rect x="70.33" y="174.50" width="12.97" height="2.65" fill="#cdeaf3"/>
<rect x="83.00" y="174.50" width="12.97" height="2.65" fill="#b1dceb"/>
<rect x="95.67" y="174.50" width="12.97" height="2.65" fill="#b6dfec"/>
<rect x="108.33" y="174.50" width="12.97" height="2.65" fill="#91c4de"/>
<rect x="121.00" y="174.50" width="12.97" height="2.65" fill="#a1d1e4"/>
<rect x="133.67" y="174.50" width="12.97" height="2.65" fill="#fffcba"/>
<rect x="146.33" y="174.50" width="12.97" height="2.65" fill="#f26841"/>
<rect x="159.00" y="174.50" width="12.97" height="2.65" fill="#db382b"/>
<rect x="171.67" y="174.50" width="12.97" height="2.65" fill="#fdb366"/>
<rect x="184.33" y="174.50" width="12.97" height="2.65" fill="#f98f53"/>
<rect x="45.00" y="176.85" width="12.97" height="2.65" fill="#77afd2"/>
<rect x="57.67" y="176.85" width="12.97" height="2.65" fill="#82b8d7"/>
<rect x="70.33" y="176.85" width="12.97" height="2.65" fill="#7fb6d6"/>
<rect x="83.00" y="176.85" width="12.97" height="2.65" fill="#75aed2"/>
<rect x="95.67" y="176.85" width="12.97" height="2.65" fill="#a0d0e4"/>
<rect x="108.33" y="176.85" width="12.97" height="2.65" fill="#71aacf"/>
<rect x="121.00" y="176.85" width="12.97" height="2.65" fill="#75add1"/>
<rect x="133.67" y="176.85" width="12.97" height="2.65" fill="#f8fccc"/>
<rect x="146.33" y="176.85" width="12.97" height="2.65" fill="#feca7b"/>
<rect x="159.00" y="176.85" width="12.97" height="2.65" fill="#f88950"/>
<rect x="171.67" y="176.85" width="12.97" height="2.65" fill="#fee89c"/>
<rect x="184.33" y="176.85" width="12.97" height="2.65" fill="#fed989"/>
<rect x="45.00" y="179.20" width="12.97" height="2.65" fill="#5c90c2"/>
<rect x="57.67" y="179.20" width="12.97" height="2.65" fill="#8bbfdb"/>
<rect x="70.33" y="179.20" width="12.97" height="2.65" fill="#92c5de"/>
<rect x="83.00" y="179.20" width="12.97" height="2.65" fill="#78b0d3"/>
<rect x="95.67" y="179.20" width="12.97" height="2.65" fill="#76afd2"/>
<rect x="108.33" y="179.20" width="12.97" height="2.65" fill="#4878b6"/>
<rect x="121.00" y="179.20" width="12.97" height="2.65" fill="#5e93c4"/>
<rect x="133.67" y="179.20" width="12.97" height="2.65" fill="#ffffbf"/>
<rect x="146.33" y="179.20" width="12.97" height="2.65" fill="#fdbf71"/>
<rect x="159.00" y="179.20" width="12.97" height="2.65" fill="#ee603d"/>
<rect x="171.67" y="179.20" width="12.97" height="2.65" fill="#fedf8f"/>
<rect x="184.33" y="179.20" width="12.97" height="2.65" fill="#fdb669"/>
<rect x="45.00" y="181.55" width="12.97" height="2.65" fill="#72abd0"/>
<rect x="57.67" y="181.55" width="12.97" height="2.65" fill="#99cbe1"/>
<rect x="70.33" y="181.55" width="12.97" height="2.65" fill="#8fc2dd"/>
<rect x="83.00" y="181.55" width="12.97" height="2.65" fill="#97c9e0"/>
<rect x="95.67" y="181.55" width="12.97" height="2.65" fill="#96c8e0"/>
<rect x="108.33" y="181.55" width="12.97" height="2.65" fill="#71a9cf"/>
<rect x="121.00" y="181.55" width="12.97" height="2.65" fill="#92c5de"/>
<rect x="133.67" y="181.55" width="12.97" height="2.65" fill="#fff9b6"/>
<rect x="146.33" y="181.55" width="12.97" height="2.65" fill="#fdb366"/>
<rect x="159.00" y="181.55" width="12.97" height="2.65" fill="#f36a42"/>
<rect x="171.67" y="181.55" width="12.97" height="2.65" fill="#fee597"/>
<rect x="184.33" y="181.55" width="12.97" height="2.65" fill="#fdc274"/>
<rect x="45.00" y="183.90" width="12.97" height="2.65" fill="#70a8ce"/>
<rect x="57.67" y="183.90" width="12.97" height="2.65" fill="#99cae1"/>
<rect x="70.33" y="183.90" width="12.97" height="2.65" fill="#9dcee3"/>
<rect x="83.00" y="183.90" width="12.97" height="2.65" fill="#87bcd9"/>
<rect x="95.67" y="183.90" width="12.97" height="2.65" fill="#a0d0e4"/>
<rect x="108.33" y="183.90" width="12.97" height="2.65" fill="#7db4d5"/>
<rect x="121.00" y="183.90" width="12.97" height="2.65" fill="#8ec2dc"/>
<rect x="133.67" y="183.90" width="12.97" height="2.65" fill="#fee79a"/>
<rect x="146.33" y="183.90" width="12.97" height="2.65" fill="#fa9757"/>
<rect x="159.00" y="183.90" width="12.97" height="2.65" fill="#e14631"/>
<rect x="171.67" y="183.90" width="12.97" height="2.65" fill="#fece7f"/>
<rect x="184.33" y="183.90" width="12.97" height="2.65" fill="#fec97a"/>
<rect x="45.00" y="186.25" width="12.97" height="2.65" fill="#7fb6d6"/>
<rect x="57.67" y="186.25" width="12.97" height="2.65" fill="#91c4de"/>
<rect x="70.33" y="186.25" width="12.97" height="2.65" fill="#8dc1dc"/>
<rect x="83.00" y="186.25" width="12.97" height="2.65" fill="#7fb6d6"/>
<rect x="95.67" y="186.25" width="12.97" height="2.65" fill="#70a8ce"/>
<rect x="108.33" y="186.25" width="12.97" height="2.65" fill="#4c7eb8"/>
<rect x="121.00" y="186.25" width="12.97" height="2.65" fill="#96c8e0"/>
<rect x="133.67" y="186.25" width="12.97" height="2.65" fill="#fffab7"/>
<rect x="146.33" y="186.25" width="12.97" height="2.65" fill="#fdba6d"/>
<rect x="159.00" y="186.25" width="12.97" height="2.65" fill="#de3f2e"/>
<rect x="171.67" y="186.25" width="12.97" height="2.65" fill="#fedc8c"/>
<rect x="184.33" y="186.25" width="12.97" height="2.65" fill="#fdc072"/>
<rect x="45.00" y="188.60" width="12.97" height="2.65" fill="#82b8d7"/>
<rect x="57.67" y="188.60" width="12.97" height="2.65" fill="#99cbe1"/>
<rect x="70.33" y="188.60" width="12.97" height="2.65" fill="#aedaea"/>
<rect x="83.00" y="188.60" width="12.97" height="2.65" fill="#86bcd9"/>
<rect x="95.67" y="188.60" width="12.97" height="2.65" fill="#82b8d7"/>
<rect x="108.33" y="188.60" width="12.97" height="2.65" fill="#5588be"/>
<rect x="121.00" y="188.60" width="12.97" height="2.65" fill="#86bbd9"/>
<rect x="133.67" y="188.60" width="12.97" height="2.65" fill="#fee99e"/>
<rect x="146.33" y="188.60" width="12.97" height="2.65" fill="#fecf80"/>
<rect x="159.00" y="188.60" width="12.97" height="2.65" fill="#f16640"/>
<rect x="171.67" y="188.60" width="12.97" height="2.65" fill="#fee699"/>
<rect x="184.33" y="188.60" width="12.97" height="2.65" fill="#fecd7f"/>
<rect x="45.00" y="190.95" width="12.97" height="2.65" fill="#ed5f3d"/>
<rect x="57.67" y="190.95" width="12.97" height="2.65" fill="#f36b42"/>
<rect x="70.33" y="190.95" width="12.97" height="2.65" fill="#f46d43"/>
<rect x="83.00" y="190.95" width="12.97" height="2.65" fill="#f67e4b"/>
<rect x="95.67" y="190.95" width="12.97" height="2.65" fill="#ee603d"/>
<rect x="108.33" y="190.95" width="12.97" height="2.65" fill="#f47044"/>
<rect x="121.00" y="190.95" width="12.97" height="2.65" fill="#f67e4b"/>
<rect x="133.67" y="190.95" width="12.97" height="2.65" fill="#fdba6c"/>
<rect x="146.33" y="190.95" width="12.97" height="2.65" fill="#fdb265"/>
<rect x="159.00" y="190.95" width="12.97" height="2.65" fill="#fdb96c"/>
<rect x="171.67" y="190.95" width="12.97" height="2.65" fill="#fdbb6d"/>
<rect x="184.33" y="190.95" width="12.97" height="2.65" fill="#fba25b"/>
<rect x="45.00" y="193.30" width="12.97" height="2.65" fill="#f0653f"/>
<rect x="57.67" y="193.30" width="12.97" height="2.65" fill="#e54e35"/>
<rect x="70.33" y="193.30" width="12.97" height="2.65" fill="#ec5d3b"/>
<rect x="83.00" y="193.30" width="12.97" height="2.65" fill="#f57245"/>
<rect x="95.67" y="193.30" width="12.97" height="2.65" fill="#ef633e"/>
<rect x="108.33" y="193.30" width="12.97" height="2.65" fill="#f57748"/>
<rect x="121.00" y="193.30" width="12.97" height="2.65" fill="#fdae61"/>
<rect x="133.67" y="193.30" width="12.97" height="2.65" fill="#ffffbf"/>
<rect x="146.33" y="193.30" width="12.97" height="2.65" fill="#fffebe"/>
<rect x="159.00" y="193.30" width="12.97" height="2.65" fill="#f3fad5"/>
<rect x="171.67" y="193.30" width="12.97" height="2.65" fill="#fffebd"/>
<rect x="184.33" y="193.30" width="12.97" height="2.65" fill="#feeda4"/>
<rect x="45.00" y="195.65" width="12.97" height="2.65" fill="#e64f35"/>
<rect x="57.67" y="195.65" width="12.97" height="2.65" fill="#ea583a"/>
<rect x="70.33" y="195.65" width="12.97" height="2.65" fill="#e44b33"/>
<rect x="83.00" y="195.65" width="12.97" height="2.65" fill="#e24732"/>
<rect x="95.67" y="195.65" width="12.97" height="2.65" fill="#ea5839"/>
<rect x="108.33" y="195.65" width="12.97" height="2.65" fill="#f7834d"/>
<rect x="121.00" y="195.65" width="12.97" height="2.65" fill="#fa9756"/>
<rect x="133.67" y="195.65" width="12.97" height="2.65" fill="#f8fccc"/>
<rect x="146.33" y="195.65" width="12.97" height="2.65" fill="#ffffbf"/>
<rect x="159.00" y="195.65" width="12.97" height="2.65" fill="#f4fbd4"/>
<rect x="171.67" y="195.65" width="12.97" height="2.65" fill="#ffffbf"/>
<rect x="184.33" y="195.65" width="12.97" height="2.65" fill="#feeca2"/>
<rect x="45.00" y="198.00" width="12.97" height="2.65" fill="#f67d4a"/>
<rect x="57.67" y="198.00" width="12.97" height="2.65" fill="#f99154"/>
<rect x="70.33" y="198.00" width="12.97" height="2.65" fill="#f67d4a"/>
<rect x="83.00" y="198.00" width="12.97" height="2.65" fill="#f0653f"/>
<rect x="95.67" y="198.00" width="12.97" height="2.65" fill="#f67949"/>
<rect x="108.33" y="198.00" width="12.97" height="2.65" fill="#fa9756"/>
<rect x="121.00" y="198.00" width="12.97" height="2.65" fill="#fdc072"/>
<rect x="133.67" y="198.00" width="12.97" height="2.65" fill="#fbfdc7"/>
<rect x="146.33" y="198.00" width="12.97" height="2.65" fill="#eef9dd"/>
<rect x="159.00" y="198.00" width="12.97" height="2.65" fill="#eef8de"/>
<rect x="171.67" y="198.00" width="12.97" height="2.65" fill="#f9fdca"/>
<rect x="184.33" y="198.00" width="12.97" height="2.65" fill="#fff8b5"/>
<rect x="45.00" y="200.35" width="12.97" height="2.65" fill="#dd3c2d"/>
<rect x="57.67" y="200.35" width="12.97" height="2.65" fill="#e0422f"/>
<rect x="70.33" y="200.35" width="12.97" height="2.65" fill="#cb2427"/>
<rect x="83.00" y="200.35" width="12.97" height="2.65" fill="#d42d27"/>
<rect x="95.67" y="200.35" width="12.97" height="2.65" fill="#e34832"/>
<rect x="108.33" y="200.35" width="12.97" height="2.65" fill="#e44b33"/>
<rect x="121.00" y="200.35" width="12.97" height="2.65" fill="#f67f4b"/>
<rect x="133.67" y="200.35" width="12.97" height="2.65" fill="#fff7b3"/>
<rect x="146.33" y="200.35" width="12.97" height="2.65" fill="#fffebd"/>
<rect x="159.00" y="200.35" width="12.97" height="2.65" fill="#f8fccc"/>
<rect x="171.67" y="200.35" width="12.97" height="2.65" fill="#fffbb9"/>
<rect x="184.33" y="200.35" width="12.97" height="2.65" fill="#fffbb9"/>
<rect x="45.00" y="202.70" width="12.97" height="2.65" fill="#ea5839"/>
<rect x="57.67" y="202.70" width="12.97" height="2.65" fill="#dd3d2d"/>
<rect x="70.33" y="202.70" width="12.97" height="2.65" fill="#da372a"/>
<rect x="83.00" y="202.70" width="12.97" height="2.65" fill="#ee613e"/>
<rect x="95.67" y="202.70" width="12.97" height="2.65" fill="#da372a"/>
<rect x="108.33" y="202.70" width="12.97" height="2.65" fill="#e75136"/>
<rect x="121.00" y="202.70" width="12.97" height="2.65" fill="#f57245"/>
<rect x="133.67" y="202.70" width="12.97" height="2.65" fill="#fbfdc6"/>
<rect x="146.33" y="202.70" width="12.97" height="2.65" fill="#fffbb8"/>
<rect x="159.00" y="202.70" width="12.97" height="2.65" fill="#fffebe"/>
<rect x="171.67" y="202.70" width="12.97" height="2.65" fill="#fffab7"/>
<rect x="184.33" y="202.70" width="12.97" height="2.65" fill="#fff4ae"/>
<rect x="45.00" y="205.05" width="12.97" height="2.65" fill="#ec5b3b"/>
<rect x="57.67" y="205.05" width="12.97" height="2.65" fill="#ef633f"/>
<rect x="70.33" y="205.05" width="12.97" height="2.65" fill="#e44c34"/>
<rect x="83.00" y="205.05" width="12.97" height="2.65" fill="#e85337"/>
<rect x="95.67" y="205.05" width="12.97" height="2.65" fill="#e54d34"/>
<rect x="108.33" y="205.05" width="12.97" height="2.65" fill="#eb5a3a"/>
<rect x="121.00" y="205.05" width="12.97" height="2.65" fill="#f99053"/>
<rect x="133.67" y="205.05" width="12.97" height="2.65" fill="#eff9dc"/>
<rect x="146.33" y="205.05" width="12.97" height="2.65" fill="#eef8de"/>
<rect x="159.00" y="205.05" width="12.97" height="2.65" fill="#f4fbd3"/>
<rect x="171.67" y="205.05" width="12.97" height="2.65" fill="#f9fdca"/>
<rect x="184.33" y="205.05" width="12.97" height="2.65" fill="#fbfdc7"/>
<rect x="45.00" y="207.40" width="12.97" height="2.65" fill="#f16740"/>
<rect x="57.67" y="207.40" width="12.97" height="2.65" fill="#ec5d3c"/>
<rect x="70.33" y="207.40" width="12.97" height="2.65" fill="#e44b33"/>
<rect x="83.00" y="207.40" width="12.97" height="2.65" fill="#ef633e"/>
<rect x="95.67" y="207.40" width="12.97" height="2.65" fill="#eb5b3b"/>
<rect x="108.33" y="207.40" width="12.97" height="2.65" fill="#f7814c"/>
<rect x="121.00" y="207.40" width="12.97" height="2.65" fill="#fa9857"/>
<rect x="133.67" y="207.40" width="12.97" height="2.65" fill="#fff2ac"/>
<rect x="146.33" y="207.40" width="12.97" height="2.65" fill="#fdfec2"/>
<rect x="159.00" y="207.40" width="12.97" height="2.65" fill="#fff5b0"/>
<rect x="171.67" y="207.40" width="12.97" height="2.65" fill="#fff9b6"/>
<rect x="184.33" y="207.40" width="12.97" height="2.65" fill="#fee597"/>
<rect x="45.00" y="209.75" width="12.97" height="2.65" fill="#ee613d"/>
<rect x="57.67" y="209.75" width="12.97" height="2.65" fill="#f46f44"/>
<rect x="70.33" y="209.75" width="12.97" height="2.65" fill="#ec5b3b"/>
<rect x="83.00" y="209.75" width="12.97" height="2.65" fill="#f36c42"/>
<rect x="95.67" y="209.75" width="12.97" height="2.65" fill="#ef623e"/>
<rect x="108.33" y="209.75" width="12.97" height="2.65" fill="#f57848"/>
<rect x="121.00" y="209.75" width="12.97" height="2.65" fill="#fca95f"/>
<rect x="133.67" y="209.75" width="12.97" height="2.65" fill="#ecf8e2"/>
<rect x="146.33" y="209.75" width="12.97" height="2.65" fill="#fffcba"/>
<rect x="159.00" y="209.75" width="12.97" height="2.65" fill="#f8fccc"/>
<rect x="171.67" y="209.75" width="12.97" height="2.65" fill="#f2fad7"/>
<rect x="184.33" y="209.75" width="12.97" height="2.65" fill="#fff9b7"/>
<rect x="45.00" y="212.10" width="12.97" height="2.65" fill="#fed686"/>
<rect x="57.67" y="212.10" width="12.97" height="2.65" fill="#f88c51"/>
<rect x="70.33" y="212.10" width="12.97" height="2.65" fill="#f57145"/>
<rect x="83.00" y="212.10" width="12.97" height="2.65" fill="#dc3b2c"/>
<rect x="95.67" y="212.10" width="12.97" height="2.65" fill="#f57848"/>
<rect x="108.33" y="212.10" width="12.97" height="2.65" fill="#f57245"/>
<rect x="121.00" y="212.10" width="12.97" height="2.65" fill="#fdb568"/>
<rect x="133.67" y="212.10" width="12.97" height="2.65" fill="#e7f6ea"/>
<rect x="146.33" y="212.10" width="12.97" height="2.65" fill="#acd9e9"/>
<rect x="159.00" y="212.10" width="12.97" height="2.65" fill="#b3ddeb"/>
<rect x="171.67" y="212.10" width="12.97" height="2.65" fill="#def2f8"/>
<rect x="184.33" y="212.10" width="12.97" height="2.65" fill="#b2dceb"/>
<rect x="45.00" y="214.45" width="12.97" height="2.65" fill="#fee293"/>
<rect x="57.67" y="214.45" width="12.97" height="2.65" fill="#fecf80"/>
<rect x="70.33" y="214.45" width="12.97" height="2.65" fill="#fa9b58"/>
<rect x="83.00" y="214.45" width="12.97" height="2.65" fill="#f67c4a"/>
<rect x="95.67" y="214.45" width="12.97" height="2.65" fill="#f8884f"/>
<rect x="108.33" y="214.45" width="12.97" height="2.65" fill="#fba35c"/>
<rect x="121.00" y="214.45" width="12.97" height="2.65" fill="#fdc072"/>
<rect x="133.67" y="214.45" width="12.97" height="2.65" fill="#c5e6f0"/>
<rect x="146.33" y="214.45" width="12.97" height="2.65" fill="#6297c6"/>
<rect x="159.00" y="214.45" width="12.97" height="2.65" fill="#74add1"/>
<rect x="171.67" y="214.45" width="12.97" height="2.65" fill="#99cbe1"/>
<rect x="184.33" y="214.45" width="12.97" height="2.65" fill="#5c91c2"/>
<rect x="45.00" y="216.80" width="12.97" height="2.65" fill="#fee598"/>
<rect x="57.67" y="216.80" width="12.97" height="2.65" fill="#fdc375"/>
<rect x="70.33" y="216.80" width="12.97" height="2.65" fill="#fdc173"/>
<rect x="83.00" y="216.80" width="12.97" height="2.65" fill="#fca95f"/>
<rect x="95.67" y="216.80" width="12.97" height="2.65" fill="#fca75e"/>
<rect x="108.33" y="216.80" width="12.97" height="2.65" fill="#fecc7e"/>
<rect x="121.00" y="216.80" width="12.97" height="2.65" fill="#fedf8f"/>
<rect x="133.67" y="216.80" width="12.97" height="2.65" fill="#fffebe"/>
<rect x="146.33" y="216.80" width="12.97" height="2.65" fill="#b3ddeb"/>
<rect x="159.00" y="216.80" width="12.97" height="2.65" fill="#c7e7f1"/>
<rect x="171.67" y="216.80" width="12.97" height="2.65" fill="#b9e0ed"/>
<rect x="184.33" y="216.80" width="12.97" height="2.65" fill="#8ec2dd"/>
<rect x="45.00" y="219.15" width="12.97" height="2.65" fill="#fdbe70"/>
<rect x="57.67" y="219.15" width="12.97" height="2.65" fill="#fdc476"/>
<rect x="70.33" y="219.15" width="12.97" height="2.65" fill="#ec5c3b"/>
<rect x="83.00" y="219.15" width="12.97" height="2.65" fill="#ec5c3b"/>
<rect x="95.67" y="219.15" width="12.97" height="2.65" fill="#f16740"/>
<rect x="108.33" y="219.15" width="12.97" height="2.65" fill="#f88b51"/>
<rect x="121.00" y="219.15" width="12.97" height="2.65" fill="#fca75e"/>
<rect x="133.67" y="219.15" width="12.97" height="2.65" fill="#fafdc7"/>
<rect x="146.33" y="219.15" width="12.97" height="2.65" fill="#89beda"/>
<rect x="159.00" y="219.15" width="12.97" height="2.65" fill="#7bb3d4"/>
<rect x="171.67" y="219.15" width="12.97" height="2.65" fill="#c5e6f0"/>
<rect x="184.33" y="219.15" width="12.97" height="2.65" fill="#a8d7e8"/>
<rect x="45.00" y="221.50" width="12.97" height="2.65" fill="#fed687"/>
<rect x="57.67" y="221.50" width="12.97" height="2.65" fill="#fdb96b"/>
<rect x="70.33" y="221.50" width="12.97" height="2.65" fill="#f7814c"/>
<rect x="83.00" y="221.50" width="12.97" height="2.65" fill="#f46d43"/>
<rect x="95.67" y="221.50" width="12.97" height="2.65" fill="#ec5d3c"/>
<rect x="108.33" y="221.50" width="12.97" height="2.65" fill="#f99354"/>
<rect x="121.00" y="221.50" width="12.97" height="2.65" fill="#f88c51"/>
<rect x="133.67" y="221.50" width="12.97" height="2.65" fill="#fffcbb"/>
<rect x="146.33" y="221.50" width="12.97" height="2.65" fill="#a2d2e5"/>
<rect x="159.00" y="221.50" width="12.97" height="2.65" fill="#a9d7e8"/>
<rect x="171.67" y="221.50" width="12.97" height="2.65" fill="#dff2f8"/>
<rect x="184.33" y="221.50" width="12.97" height="2.65" fill="#9acbe2"/>
<rect x="45.00" y="223.85" width="12.97" height="2.65" fill="#fdc678"/>
<rect x="57.67" y="223.85" width="12.97" height="2.65" fill="#fb9f5a"/>
<rect x="70.33" y="223.85" width="12.97" height="2.65" fill="#f57145"/>
<rect x="83.00" y="223.85" width="12.97" height="2.65" fill="#f57346"/>
<rect x="95.67" y="223.85" width="12.97" height="2.65" fill="#f8884f"/>
<rect x="108.33" y="223.85" width="12.97" height="2.65" fill="#f88d52"/>
<rect x="121.00" y="223.85" width="12.97" height="2.65" fill="#fed384"/>
<rect x="133.67" y="223.85" width="12.97" height="2.65" fill="#e4f5f0"/>
<rect x="146.33" y="223.85" width="12.97" height="2.65" fill="#6398c6"/>
<rect x="159.00" y="223.85" width="12.97" height="2.65" fill="#6196c5"/>
<rect x="171.67" y="223.85" width="12.97" height="2.65" fill="#85bbd8"/>
<rect x="184.33" y="223.85" width="12.97" height="2.65" fill="#659bc8"/>
<rect x="45.00" y="226.20" width="12.97" height="2.65" fill="#fed383"/>
<rect x="57.67" y="226.20" width="12.97" height="2.65" fill="#f99053"/>
<rect x="70.33" y="226.20" width="12.97" height="2.65" fill="#e75136"/>
<rect x="83.00" y="226.20" width="12.97" height="2.65" fill="#f57145"/>
<rect x="95.67" y="226.20" width="12.97" height="2.65" fill="#f88c51"/>
<rect x="108.33" y="226.20" width="12.97" height="2.65" fill="#f88850"/>
<rect x="121.00" y="226.20" width="12.97" height="2.65" fill="#fdb265"/>
<rect x="133.67" y="226.20" width="12.97" height="2.65" fill="#f7fcce"/>
<rect x="146.33" y="226.20" width="12.97" height="2.65" fill="#8fc3dd"/>
<rect x="159.00" y="226.20" width="12.97" height="2.65" fill="#7ab2d4"/>
<rect x="171.67" y="226.20" width="12.97" height="2.65" fill="#c6e6f1"/>
<rect x="184.33" y="226.20" width="12.97" height="2.65" fill="#84bad8"/>
<rect x="45.00" y="228.55" width="12.97" height="2.65" fill="#fdc678"/>
<rect x="57.67" y="228.55" width="12.97" height="2.65" fill="#fdb567"/>
<rect x="70.33" y="228.55" width="12.97" height="2.65" fill="#f46f44"/>
<rect x="83.00" y="228.55" width="12.97" height="2.65" fill="#e24732"/>
<rect x="95.67" y="228.55" width="12.97" height="2.65" fill="#ea5739"/>
<rect x="108.33" y="228.55" width="12.97" height="2.65" fill="#f26941"/>
<rect x="121.00" y="228.55" width="12.97" height="2.65" fill="#fb9c59"/>
<rect x="133.67" y="228.55" width="12.97" height="2.65" fill="#b4deec"/>
<rect x="146.33" y="228.55" width="12.97" height="2.65" fill="#5e93c4"/>
<rect x="159.00" y="228.55" width="12.97" height="2.65" fill="#679ec9"/>
<rect x="171.67" y="228.55" width="12.97" height="2.65" fill="#7eb5d5"/>
<rect x="184.33" y="228.55" width="12.97" height="2.65" fill="#79b1d3"/>
<rect x="45.00" y="230.90" width="12.97" height="2.65" fill="#fed98a"/>
<rect x="57.67" y="230.90" width="12.97" height="2.65" fill="#fdbe70"/>
<rect x="70.33" y="230.90" width="12.97" height="2.65" fill="#f7864f"/>
<rect x="83.00" y="230.90" width="12.97" height="2.65" fill="#e95639"/>
<rect x="95.67" y="230.90" width="12.97" height="2.65" fill="#f26941"/>
<rect x="108.33" y="230.90" width="12.97" height="2.65" fill="#fa9656"/>
<rect x="121.00" y="230.90" width="12.97" height="2.65" fill="#fee89b"/>
<rect x="133.67" y="230.90" width="12.97" height="2.65" fill="#dff2f8"/>
<rect x="146.33" y="230.90" width="12.97" height="2.65" fill="#c2e4f0"/>
<rect x="159.00" y="230.90" width="12.97" height="2.65" fill="#a1d1e5"/>
<rect x="171.67" y="230.90" width="12.97" height="2.65" fill="#b8dfed"/>
<rect x="184.33" y="230.90" width="12.97" height="2.65" fill="#b7dfed"/>
<rect x="45.00" y="233.25" width="12.97" height="2.65" fill="#f7864e"/>
<rect x="57.67" y="233.25" width="12.97" height="2.65" fill="#e85337"/>
<rect x="70.33" y="233.25" width="12.97" height="2.65" fill="#f7864f"/>
<rect x="83.00" y="233.25" width="12.97" height="2.65" fill="#e54e35"/>
<rect x="95.67" y="233.25" width="12.97" height="2.65" fill="#ed5e3c"/>
<rect x="108.33" y="233.25" width="12.97" height="2.65" fill="#e85437"/>
<rect x="121.00" y="233.25" width="12.97" height="2.65" fill="#f7844d"/>
<rect x="133.67" y="233.25" width="12.97" height="2.65" fill="#cdeaf3"/>
<rect x="146.33" y="233.25" width="12.97" height="2.65" fill="#8abfdb"/>
<rect x="159.00" y="233.25" width="12.97" height="2.65" fill="#bae0ed"/>
<rect x="171.67" y="233.25" width="12.97" height="2.65" fill="#b3ddeb"/>
<rect x="184.33" y="233.25" width="12.97" height="2.65" fill="#bde2ee"/>
<rect x="45.00" y="235.60" width="12.97" height="2.65" fill="#fdae61"/>
<rect x="57.67" y="235.60" width="12.97" height="2.65" fill="#f57547"/>
<rect x="70.33" y="235.60" width="12.97" height="2.65" fill="#fca85e"/>
<rect x="83.00" y="235.60" width="12.97" height="2.65" fill="#f67c4a"/>
<rect x="95.67" y="235.60" width="12.97" height="2.65" fill="#f77f4c"/>
<rect x="108.33" y="235.60" width="12.97" height="2.65" fill="#f67948"/>
<rect x="121.00" y="235.60" width="12.97" height="2.65" fill="#fdb669"/>
<rect x="133.67" y="235.60" width="12.97" height="2.65" fill="#f4fbd3"/>
<rect x="146.33" y="235.60" width="12.97" height="2.65" fill="#b8dfed"/>
<rect x="159.00" y="235.60" width="12.97" height="2.65" fill="#cfebf3"/>
<rect x="171.67" y="235.60" width="12.97" height="2.65" fill="#c3e5f0"/>
<rect x="184.33" y="235.60" width="12.97" height="2.65" fill="#cdeaf3"/>
<rect x="45.00" y="237.95" width="12.97" height="2.65" fill="#fa9a58"/>
<rect x="57.67" y="237.95" width="12.97" height="2.65" fill="#f7844e"/>
<rect x="70.33" y="237.95" width="12.97" height="2.65" fill="#f57245"/>
<rect x="83.00" y="237.95" width="12.97" height="2.65" fill="#d93529"/>
<rect x="95.67" y="237.95" width="12.97" height="2.65" fill="#ee603d"/>
<rect x="108.33" y="237.95" width="12.97" height="2.65" fill="#ed5d3c"/>
<rect x="121.00" y="237.95" width="12.97" height="2.65" fill="#f88c51"/>
<rect x="133.67" y="237.95" width="12.97" height="2.65" fill="#fff6b1"/>
<rect x="146.33" y="237.95" width="12.97" height="2.65" fill="#e4f5f1"/>
<rect x="159.00" y="237.95" width="12.97" height="2.65" fill="#b5deec"/>
<rect x="171.67" y="237.95" width="12.97" height="2.65" fill="#c1e4ef"/>
<rect x="184.33" y="237.95" width="12.97" height="2.65" fill="#d2ecf4"/>
<rect x="45.00" y="240.30" width="12.97" height="2.65" fill="#fdbf71"/>
<rect x="57.67" y="240.30" width="12.97" height="2.65" fill="#ed5e3c"/>
<rect x="70.33" y="240.30" width="12.97" height="2.65" fill="#f06540"/>
<rect x="83.00" y="240.30" width="12.97" height="2.65" fill="#f67c4a"/>
<rect x="95.67" y="240.30" width="12.97" height="2.65" fill="#ef633e"/>
<rect x="108.33" y="240.30" width="12.97" height="2.65" fill="#ee603d"/>
<rect x="121.00" y="240.30" width="12.97" height="2.65" fill="#fdaf62"/>
<rect x="133.67" y="240.30" width="12.97" height="2.65" fill="#fffab7"/>
<rect x="146.33" y="240.30" width="12.97" height="2.65" fill="#eff9dc"/>
<rect x="159.00" y="240.30" width="12.97" height="2.65" fill="#d2ecf4"/>
<rect x="171.67" y="240.30" width="12.97" height="2.65" fill="#ecf8e2"/>
<rect x="184.33" y="240.30" width="12.97" height="2.65" fill="#d5eef5"/>
<rect x="45.00" y="242.65" width="12.97" height="2.65" fill="#fecd7e"/>
<rect x="57.67" y="242.65" width="12.97" height="2.65" fill="#f88850"/>
<rect x="70.33" y="242.65" width="12.97" height="2.65" fill="#f36a42"/>
<rect x="83.00" y="242.65" width="12.97" height="2.65" fill="#f46e43"/>
<rect x="95.67" y="242.65" width="12.97" height="2.65" fill="#f36b42"/>
<rect x="108.33" y="242.65" width="12.97" height="2.65" fill="#f36b42"/>
<rect x="121.00" y="242.65" width="12.97" height="2.65" fill="#fdbf71"/>
<rect x="133.67" y="242.65" width="12.97" height="2.65" fill="#f9fdcb"/>
<rect x="146.33" y="242.65" width="12.97" height="2.65" fill="#aedbea"/>
<rect x="159.00" y="242.65" width="12.97" height="2.65" fill="#c2e4ef"/>
<rect x="171.67" y="242.65" width="12.97" height="2.65" fill="#b7dfed"/>
<rect x="184.33" y="242.65" width="12.97" height="2.65" fill="#a7d6e7"/>
<rect x="45.00" y="245.00" width="12.97" height="2.65" fill="#f06640"/>
<rect x="57.67" y="245.00" width="12.97" height="2.65" fill="#e14631"/>
<rect x="70.33" y="245.00" width="12.97" height="2.65" fill="#d93529"/>
<rect x="83.00" y="245.00" width="12.97" height="2.65" fill="#e44a33"/>
<rect x="95.67" y="245.00" width="12.97" height="2.65" fill="#c21b27"/>
<rect x="108.33" y="245.00" width="12.97" height="2.65" fill="#cc2627"/>
<rect x="121.00" y="245.00" width="12.97" height="2.65" fill="#f7834d"/>
<rect x="133.67" y="245.00" width="12.97" height="2.65" fill="#d6eef5"/>
<rect x="146.33" y="245.00" width="12.97" height="2.65" fill="#d6eef5"/>
<rect x="159.00" y="245.00" width="12.97" height="2.65" fill="#9ccde2"/>
<rect x="171.67" y="245.00" width="12.97" height="2.65" fill="#9bcce2"/>
<rect x="184.33" y="245.00" width="12.97" height="2.65" fill="#8cc0dc"/>
<rect x="45.00" y="247.35" width="12.97" height="2.65" fill="#fdab60"/>
<rect x="57.67" y="247.35" width="12.97" height="2.65" fill="#e65036"/>
<rect x="70.33" y="247.35" width="12.97" height="2.65" fill="#f67c4a"/>
<rect x="83.00" y="247.35" width="12.97" height="2.65" fill="#e44c34"/>
<rect x="95.67" y="247.35" width="12.97" height="2.65" fill="#d73127"/>
<rect x="108.33" y="247.35" width="12.97" height="2.65" fill="#f67848"/>
<rect x="121.00" y="247.35" width="12.97" height="2.65" fill="#f88b51"/>
<rect x="133.67" y="247.35" width="12.97" height="2.65" fill="#feffc1"/>
<rect x="146.33" y="247.35" width="12.97" height="2.65" fill="#a9d7e8"/>
<rect x="159.00" y="247.35" width="12.97" height="2.65" fill="#9dcee3"/>
<rect x="171.67" y="247.35" width="12.97" height="2.65" fill="#a9d8e8"/>
<rect x="184.33" y="247.35" width="12.97" height="2.65" fill="#8fc2dd"/>
<rect x="45.00" y="249.70" width="12.97" height="2.65" fill="#fca45c"/>
<rect x="57.67" y="249.70" width="12.97" height="2.65" fill="#e95538"/>
<rect x="70.33" y="249.70" width="12.97" height="2.65" fill="#fa9958"/>
<rect x="83.00" y="249.70" width="12.97" height="2.65" fill="#ec5d3b"/>
<rect x="95.67" y="249.70" width="12.97" height="2.65" fill="#f67949"/>
<rect x="108.33" y="249.70" width="12.97" height="2.65" fill="#e75136"/>
<rect x="121.00" y="249.70" width="12.97" height="2.65" fill="#fdb265"/>
<rect x="133.67" y="249.70" width="12.97" height="2.65" fill="#bee2ee"/>
<rect x="146.33" y="249.70" width="12.97" height="2.65" fill="#94c6df"/>
<rect x="159.00" y="249.70" width="12.97" height="2.65" fill="#8dc1dc"/>
<rect x="171.67" y="249.70" width="12.97" height="2.65" fill="#86bcd9"/>
<rect x="184.33" y="249.70" width="12.97" height="2.65" fill="#82b9d7"/>
<rect x="45.00" y="252.05" width="12.97" height="2.65" fill="#fed788"/>
<rect x="57.67" y="252.05" width="12.97" height="2.65" fill="#f88d52"/>
<rect x="70.33" y="252.05" width="12.97" height="2.65" fill="#fdb86a"/>
<rect x="83.00" y="252.05" width="12.97" height="2.65" fill="#f67949"/>
<rect x="95.67" y="252.05" width="12.97" height="2.65" fill="#de3f2e"/>
<rect x="108.33" y="252.05" width="12.97" height="2.65" fill="#f67949"/>
<rect x="121.00" y="252.05" width="12.97" height="2.65" fill="#fecf80"/>
<rect x="133.67" y="252.05" width="12.97" height="2.65" fill="#eaf7e5"/>
<rect x="146.33" y="252.05" width="12.97" height="2.65" fill="#abd9e9"/>
<rect x="159.00" y="252.05" width="12.97" height="2.65" fill="#8ec2dc"/>
<rect x="171.67" y="252.05" width="12.97" height="2.65" fill="#aad8e9"/>
<rect x="184.33" y="252.05" width="12.97" height="2.65" fill="#bbe1ee"/>
<rect x="45.00" y="254.40" width="12.97" height="2.65" fill="#fdc172"/>
<rect x="57.67" y="254.40" width="12.97" height="2.65" fill="#f98f53"/>
<rect x="70.33" y="254.40" width="12.97" height="2.65" fill="#eb593a"/>
<rect x="83.00" y="254.40" width="12.97" height="2.65" fill="#e75237"/>
<rect x="95.67" y="254.40" width="12.97" height="2.65" fill="#f16640"/>
<rect x="108.33" y="254.40" width="12.97" height="2.65" fill="#f99355"/>
<rect x="121.00" y="254.40" width="12.97" height="2.65" fill="#fdbe70"/>
<rect x="133.67" y="254.40" width="12.97" height="2.65" fill="#fffebe"/>
<rect x="146.33" y="254.40" width="12.97" height="2.65" fill="#a3d3e6"/>
<rect x="159.00" y="254.40" width="12.97" height="2.65" fill="#a7d6e7"/>
<rect x="171.67" y="254.40" width="12.97" height="2.65" fill="#b7dfed"/>
<rect x="184.33" y="254.40" width="12.97" height="2.65" fill="#a6d5e7"/>
<rect x="45.00" y="256.75" width="12.97" height="2.65" fill="#fed081"/>
<rect x="57.67" y="256.75" width="12.97" height="2.65" fill="#ef623e"/>
<rect x="70.33" y="256.75" width="12.97" height="2.65" fill="#fa9957"/>
<rect x="83.00" y="256.75" width="12.97" height="2.65" fill="#e95638"/>
<rect x="95.67" y="256.75" width="12.97" height="2.65" fill="#f8874f"/>
<rect x="108.33" y="256.75" width="12.97" height="2.65" fill="#f67a49"/>
<rect x="121.00" y="256.75" width="12.97" height="2.65" fill="#fdaf62"/>
<rect x="133.67" y="256.75" width="12.97" height="2.65" fill="#e0f3f7"/>
<rect x="146.33" y="256.75" width="12.97" height="2.65" fill="#88bdda"/>
<rect x="159.00" y="256.75" width="12.97" height="2.65" fill="#98cae1"/>
<rect x="171.67" y="256.75" width="12.97" height="2.65" fill="#9fd0e4"/>
<rect x="184.33" y="256.75" width="12.97" height="2.65" fill="#7fb5d6"/>
<rect x="45.00" y="259.10" width="12.97" height="2.65" fill="#f0f9da"/>
<rect x="57.67" y="259.10" width="12.97" height="2.65" fill="#f1fad9"/>
<rect x="70.33" y="259.10" width="12.97" height="2.65" fill="#e0f3f8"/>
<rect x="83.00" y="259.10" width="12.97" height="2.65" fill="#f3fad5"/>
<rect x="95.67" y="259.10" width="12.97" height="2.65" fill="#ecf7e3"/>
<rect x="108.33" y="259.10" width="12.97" height="2.65" fill="#e1f4f6"/>
<rect x="121.00" y="259.10" width="12.97" height="2.65" fill="#fafdc8"/>
<rect x="133.67" y="259.10" width="12.97" height="2.65" fill="#9ccde2"/>
<rect x="146.33" y="259.10" width="12.97" height="2.65" fill="#5386bd"/>
<rect x="159.00" y="259.10" width="12.97" height="2.65" fill="#6095c4"/>
<rect x="171.67" y="259.10" width="12.97" height="2.65" fill="#4574b4"/>
<rect x="184.33" y="259.10" width="12.97" height="2.65" fill="#4c7db8"/>
<rect x="45.00" y="261.45" width="12.97" height="2.65" fill="#fff4ae"/>
<rect x="57.67" y="261.45" width="12.97" height="2.65" fill="#f5fbd2"/>
<rect x="70.33" y="261.45" width="12.97" height="2.65" fill="#fff5b0"/>
<rect x="83.00" y="261.45" width="12.97" height="2.65" fill="#fffdbc"/>
<rect x="95.67" y="261.45" width="12.97" height="2.65" fill="#fff9b7"/>
<rect x="108.33" y="261.45" width="12.97" height="2.65" fill="#f9fdca"/>
<rect x="121.00" y="261.45" width="12.97" height="2.65" fill="#feeba1"/>
<rect x="133.67" y="261.45" width="12.97" height="2.65" fill="#9dcee3"/>
<rect x="146.33" y="261.45" width="12.97" height="2.65" fill="#5f94c4"/>
<rect x="159.00" y="261.45" width="12.97" height="2.65" fill="#4f81ba"/>
<rect x="171.67" y="261.45" width="12.97" height="2.65" fill="#77afd2"/>
<rect x="184.33" y="261.45" width="12.97" height="2.65" fill="#679dc9"/>
<rect x="45.00" y="263.80" width="12.97" height="2.65" fill="#e4f5f0"/>
<rect x="57.67" y="263.80" width="12.97" height="2.65" fill="#d1ebf4"/>
<rect x="70.33" y="263.80" width="12.97" height="2.65" fill="#e6f5ed"/>
<rect x="83.00" y="263.80" width="12.97" height="2.65" fill="#dff3f8"/>
<rect x="95.67" y="263.80" width="12.97" height="2.65" fill="#e0f3f7"/>
<rect x="108.33" y="263.80" width="12.97" height="2.65" fill="#d0ebf3"/>
<rect x="121.00" y="263.80" width="12.97" height="2.65" fill="#eff9dd"/>
<rect x="133.67" y="263.80" width="12.97" height="2.65" fill="#88bdda"/>
<rect x="146.33" y="263.80" width="12.97" height="2.65" fill="#598dc1"/>
<rect x="159.00" y="263.80" width="12.97" height="2.65" fill="#5284bc"/>
<rect x="171.67" y="263.80" width="12.97" height="2.65" fill="#588bbf"/>
<rect x="184.33" y="263.80" width="12.97" height="2.65" fill="#4472b2"/>
<rect x="45.00" y="266.15" width="12.97" height="2.65" fill="#f4fbd3"/>
<rect x="57.67" y="266.15" width="12.97" height="2.65" fill="#d5edf5"/>
<rect x="70.33" y="266.15" width="12.97" height="2.65" fill="#e7f6eb"/>
<rect x="83.00" y="266.15" width="12.97" height="2.65" fill="#e8f6ea"/>
<rect x="95.67" y="266.15" width="12.97" height="2.65" fill="#e7f6eb"/>
<rect x="108.33" y="266.15" width="12.97" height="2.65" fill="#edf8e1"/>
<rect x="121.00" y="266.15" width="12.97" height="2.65" fill="#f0f9db"/>
<rect x="133.67" y="266.15" width="12.97" height="2.65" fill="#a1d1e5"/>
<rect x="146.33" y="266.15" width="12.97" height="2.65" fill="#4777b5"/>
<rect x="159.00" y="266.15" width="12.97" height="2.65" fill="#4472b2"/>
<rect x="171.67" y="266.15" width="12.97" height="2.65" fill="#659bc8"/>
<rect x="184.33" y="266.15" width="12.97" height="2.65" fill="#649ac7"/>
<rect x="45.00" y="268.50" width="12.97" height="2.65" fill="#fcfec5"/>
<rect x="57.67" y="268.50" width="12.97" height="2.65" fill="#e7f6ec"/>
<rect x="70.33" y="268.50" width="12.97" height="2.65" fill="#fffebe"/>
<rect x="83.00" y="268.50" width="12.97" height="2.65" fill="#f0f9db"/>
<rect x="95.67" y="268.50" width="12.97" height="2.65" fill="#fdfec3"/>
<rect x="108.33" y="268.50" width="12.97" height="2.65" fill="#eff9dd"/>
<rect x="121.00" y="268.50" width="12.97" height="2.65" fill="#edf8e1"/>
<rect x="133.67" y="268.50" width="12.97" height="2.65" fill="#8ec2dc"/>
<rect x="146.33" y="268.50" width="12.97" height="2.65" fill="#77afd2"/>
<rect x="159.00" y="268.50" width="12.97" height="2.65" fill="#5d91c3"/>
<rect x="171.67" y="268.50" width="12.97" height="2.65" fill="#5e93c3"/>
<rect x="184.33" y="268.50" width="12.97" height="2.65" fill="#70a8ce"/>
<rect x="45.00" y="270.85" width="12.97" height="2.65" fill="#fee598"/>
<rect x="57.67" y="270.85" width="12.97" height="2.65" fill="#fed889"/>
<rect x="70.33" y="270.85" width="12.97" height="2.65" fill="#feca7c"/>
<rect x="83.00" y="270.85" width="12.97" height="2.65" fill="#feeca2"/>
<rect x="95.67" y="270.85" width="12.97" height="2.65" fill="#fba25b"/>
<rect x="108.33" y="270.85" width="12.97" height="2.65" fill="#fdc476"/>
<rect x="121.00" y="270.85" width="12.97" height="2.65" fill="#fed586"/>
<rect x="133.67" y="270.85" width="12.97" height="2.65" fill="#b5deec"/>
<rect x="146.33" y="270.85" width="12.97" height="2.65" fill="#669cc8"/>
<rect x="159.00" y="270.85" width="12.97" height="2.65" fill="#5c91c2"/>
<rect x="171.67" y="270.85" width="12.97" height="2.65" fill="#6095c5"/>
<rect x="184.33" y="270.85" width="12.97" height="2.65" fill="#5e93c3"/>
<rect x="45.00" y="273.20" width="12.97" height="2.65" fill="#fdbf71"/>
<rect x="57.67" y="273.20" width="12.97" height="2.65" fill="#fec779"/>
<rect x="70.33" y="273.20" width="12.97" height="2.65" fill="#fee79a"/>
<rect x="83.00" y="273.20" width="12.97" height="2.65" fill="#feffc1"/>
<rect x="95.67" y="273.20" width="12.97" height="2.65" fill="#fdc576"/>
<rect x="108.33" y="273.20" width="12.97" height="2.65" fill="#fee69a"/>
<rect x="121.00" y="273.20" width="12.97" height="2.65" fill="#fff8b5"/>
<rect x="133.67" y="273.20" width="12.97" height="2.65" fill="#80b6d6"/>
<rect x="146.33" y="273.20" width="12.97" height="2.65" fill="#4472b2"/>
<rect x="159.00" y="273.20" width="12.97" height="2.65" fill="#6398c6"/>
<rect x="171.67" y="273.20" width="12.97" height="2.65" fill="#6095c4"/>
<rect x="184.33" y="273.20" width="12.97" height="2.65" fill="#a4d4e6"/>
<rect x="45.00" y="275.55" width="12.97" height="2.65" fill="#fdc274"/>
<rect x="57.67" y="275.55" width="12.97" height="2.65" fill="#fecf80"/>
<rect x="70.33" y="275.55" width="12.97" height="2.65" fill="#fedd8d"/>
<rect x="83.00" y="275.55" width="12.97" height="2.65" fill="#feeba1"/>
<rect x="95.67" y="275.55" width="12.97" height="2.65" fill="#fecf80"/>
<rect x="108.33" y="275.55" width="12.97" height="2.65" fill="#fdc173"/>
<rect x="121.00" y="275.55" width="12.97" height="2.65" fill="#fedb8b"/>
<rect x="133.67" y="275.55" width="12.97" height="2.65" fill="#cdeaf3"/>
<rect x="146.33" y="275.55" width="12.97" height="2.65" fill="#659bc8"/>
<rect x="159.00" y="275.55" width="12.97" height="2.65" fill="#6399c7"/>
<rect x="171.67" y="275.55" width="12.97" height="2.65" fill="#5b8fc1"/>
<rect x="184.33" y="275.55" width="12.97" height="2.65" fill="#8cc0db"/>
<rect x="45.00" y="277.90" width="12.97" height="2.65" fill="#fee69a"/>
<rect x="57.67" y="277.90" width="12.97" height="2.65" fill="#fed585"/>
<rect x="70.33" y="277.90" width="12.97" height="2.65" fill="#fdfec3"/>
<rect x="83.00" y="277.90" width="12.97" height="2.65" fill="#feeda3"/>
<rect x="95.67" y="277.90" width="12.97" height="2.65" fill="#feeba1"/>
<rect x="108.33" y="277.90" width="12.97" height="2.65" fill="#ffffbe"/>
<rect x="121.00" y="277.90" width="12.97" height="2.65" fill="#eff9dd"/>
<rect x="133.67" y="277.90" width="12.97" height="2.65" fill="#d3edf4"/>
<rect x="146.33" y="277.90" width="12.97" height="2.65" fill="#a3d3e6"/>
<rect x="159.00" y="277.90" width="12.97" height="2.65" fill="#679dc9"/>
<rect x="171.67" y="277.90" width="12.97" height="2.65" fill="#6da5cd"/>
<rect x="184.33" y="277.90" width="12.97" height="2.65" fill="#81b7d6"/>
<rect x="45.00" y="280.25" width="12.97" height="2.65" fill="#fdaf62"/>
<rect x="57.67" y="280.25" width="12.97" height="2.65" fill="#fdbb6d"/>
<rect x="70.33" y="280.25" width="12.97" height="2.65" fill="#fdb265"/>
<rect x="83.00" y="280.25" width="12.97" height="2.65" fill="#f88d52"/>
<rect x="95.67" y="280.25" width="12.97" height="2.65" fill="#e34933"/>
<rect x="108.33" y="280.25" width="12.97" height="2.65" fill="#fca85e"/>
<rect x="121.00" y="280.25" width="12.97" height="2.65" fill="#fdc173"/>
<rect x="133.67" y="280.25" width="12.97" height="2.65" fill="#b9e0ed"/>
<rect x="146.33" y="280.25" width="12.97" height="2.65" fill="#6196c5"/>
<rect x="159.00" y="280.25" width="12.97" height="2.65" fill="#93c6df"/>
<rect x="171.67" y="280.25" width="12.97" height="2.65" fill="#71a9cf"/>
<rect x="184.33" y="280.25" width="12.97" height="2.65" fill="#addae9"/>
<rect x="45.00" y="282.60" width="12.97" height="0.70" fill="#fff6b1"/>
<rect x="57.67" y="282.60" width="12.97" height="0.70" fill="#fffab7"/>
<rect x="70.33" y="282.60" width="12.97" height="0.70" fill="#feefa7"/>
<rect x="83.00" y="282.60" width="12.97" height="0.70" fill="#feffc0"/>
<rect x="95.67" y="282.60" width="12.97" height="0.70" fill="#fff6b2"/>
<rect x="108.33" y="282.60" width="12.97" height="0.70" fill="#fff1aa"/>
<rect x="121.00" y="282.60" width="12.97" height="0.70" fill="#fff8b4"/>
<rect x="133.67" y="282.60" width="12.97" height="0.70" fill="#6196c5"/>
<rect x="146.33" y="282.60" width="12.97" height="0.70" fill="#77b0d2"/>
<rect x="159.00" y="282.60" width="12.97" height="0.70" fill="#5386bd"/>
<rect x="171.67" y="282.60" width="12.97" height="0.70" fill="#6297c6"/>
<rect x="184.33" y="282.60" width="12.97" height="0.70" fill="#4472b2"/>
</g>
<path d="M45.00,57.64 H44.03 V58.93 H45.00" fill="none" stroke="#3a3a3a" stroke-width="0.75"/>
<path d="M44.03,58.29 H43.03 V60.21 H45.00" fill="none" stroke="#3a3a3a" stroke-width="0.75"/>
<path d="M45.00,61.50 H43.99 V62.79 H45.00" fill="none" stroke="#3a3a3a" stroke-width="0.75"/>
<path d="M45.00,64.07 H43.71 V65.36 H45.00" fill="none" stroke="#3a3a3a" stroke-width="0.75"/>
<path d="M43.99,62.14 H43.11 V64.71 H43.71" fill="none" stroke="#3a3a3a" stroke-width="0.75"/>
<path d="M43.03,59.25 H42.22 V63.43 H43.11" fill="none" stroke="#3a3a3a" stroke-width="0.75"/>
<path d="M45.00,68.02 H43.54 V69.37 H45.00" fill="none" stroke="#3a3a3a" stroke-width="0.75"/>
<path d="M45.00,66.67 H42.38 V68.70 H43.54" fill="none" stroke="#3a3a3a" stroke-width="0.75"/>
<path d="M45.00,70.72 H44.34 V72.07 H45.00" fill="none" stroke="#3a3a3a" stroke-width="0.75"/>
<path d="M42.38,67.68 H41.87 V71.39 H44.34" fill="none" stroke="#3a3a3a" stroke-width="0.75"/>
<path d="M45.00,73.41 H44.31 V74.76 H45.00" fill="none" stroke="#3a3a3a" stroke-width="0.75"/>
<path d="M44.31,74.09 H43.57 V76.11 H45.00" fill="none" stroke="#3a3a3a" stroke-width="0.75"/>
<path d="M41.87,69.54 H41.34 V75.10 H43.57" fill="none" stroke="#3a3a3a" stroke-width="0.75"/>
<path d="M45.00,77.46 H43.86 V78.80 H45.00" fill="none" stroke="#3a3a3a" stroke-width="0.75"/>
<path d="M43.86,78.13 H42.86 V80.15 H45.00" fill="none" stroke="#3a3a3a" stroke-width="0.75"/>
<path d="M45.00,81.50 H44.22 V82.85 H45.00" fill="none" stroke="#3a3a3a" stroke-width="0.75"/>
<path d="M45.00,84.20 H43.50 V85.54 H45.00" fill="none" stroke="#3a3a3a" stroke-width="0.75"/>
<path d="M44.22,82.17 H42.16 V84.87 H43.50" fill="none" stroke="#3a3a3a" stroke-width="0.75"/>
<path d="M42.86,79.14 H40.96 V83.52 H42.16" fill="none" stroke="#3a3a3a" stroke-width="0.75"/>
<path d="M45.00,88.24 H44.43 V89.59 H45.00" fill="none" stroke="#3a3a3a" stroke-width="0.75"/>
<path d="M45.00,86.89 H43.16 V88.91 H44.43" fill="none" stroke="#3a3a3a" stroke-width="0.75"/>
<path d="M45.00,90.93 H44.11 V92.28 H45.00" fill="none" stroke="#3a3a3a" stroke-width="0.75"/>
<path d="M45.00,93.63 H44.50 V94.98 H45.00" fill="none" stroke="#3a3a3a" stroke-width="0.75"/>
<path d="M44.50,94.30 H43.79 V96.33 H45.00" fill="none" stroke="#3a3a3a" stroke-width="0.75"/>
<path d="M44.11,91.61 H42.38 V95.32 H43.79" fill="none" stroke="#3a3a3a" stroke-width="0.75"/>
<path d="M43.16,87.90 H41.41 V93.46 H42.38" fill="none" stroke="#3a3a3a" stroke-width="0.75"/>
<path d="M40.96,81.33 H39.48 V90.68 H41.41" fill="none" stroke="#3a3a3a" stroke-width="0.75"/>
<path d="M41.34,72.32 H38.58 V86.01 H39.48" fill="none" stroke="#3a3a3a" stroke-width="0.75"/>
<line x1="38.8" y1="79.2" x2="38.6" y2="79.2" stroke="#3a3a3a" stroke-width="0.75"/>
<path d="M45.00,97.65 H44.41 V98.95 H45.00" fill="none" stroke="#3a3a3a" stroke-width="0.75"/>
<path d="M45.00,100.25 H43.54 V101.55 H45.00" fill="none" stroke="#3a3a3a" stroke-width="0.75"/>
<path d="M44.41,98.30 H42.28 V100.90 H43.54" fill="none" stroke="#3a3a3a" stroke-width="0.75"/>
<path d="M45.00,104.15 H44.40 V105.45 H45.00" fill="none" stroke="#3a3a3a" stroke-width="0.75"/>
<path d="M45.00,102.85 H43.84 V104.80 H44.40" fill="none" stroke="#3a3a3a" stroke-width="0.75"/>
<path d="M42.28,99.60 H40.98 V103.83 H43.84" fill="none" stroke="#3a3a3a" stroke-width="0.75"/>
<path d="M45.00,108.05 H43.77 V109.35 H45.00" fill="none" stroke="#3a3a3a" stroke-width="0.75"/>
<path d="M45.00,106.75 H43.14 V108.70 H43.77" fill="none" stroke="#3a3a3a" stroke-width="0.75"/>
<path d="M45.00,110.65 H44.38 V111.95 H45.00" fill="none" stroke="#3a3a3a" stroke-width="0.75"/>
<path d="M43.14,107.72 H42.22 V111.30 H44.38" fill="none" stroke="#3a3a3a" stroke-width="0.75"/>
<path d="M45.00,114.55 H43.70 V115.85 H45.00" fill="none" stroke="#3a3a3a" stroke-width="0.75"/>
<path d="M45.00,113.25 H42.89 V115.20 H43.70" fill="none" stroke="#3a3a3a" stroke-width="0.75"/>
<path d="M45.00,118.45 H43.65 V119.75 H45.00" fill="none" stroke="#3a3a3a" stroke-width="0.75"/>
<path d="M45.00,117.15 H42.50 V119.10 H43.65" fill="none" stroke="#3a3a3a" stroke-width="0.75"/>
<path d="M45.00,121.05 H43.51 V122.35 H45.00" fill="none" stroke="#3a3a3a" stroke-width="0.75"/>
<path d="M42.50,118.12 H41.79 V121.70 H43.51" fill="none" stroke="#3a3a3a" stroke-width="0.75"/>
<path d="M42.89,114.22 H41.03 V119.91 H41.79" fill="none" stroke="#3a3a3a" stroke-width="0.75"/>
<path d="M42.22,109.51 H39.76 V117.07 H41.03" fill="none" stroke="#3a3a3a" stroke-width="0.75"/>
<path d="M40.98,101.71 H38.93 V113.29 H39.76" fill="none" stroke="#3a3a3a" stroke-width="0.75"/>
<path d="M38.80,79.16 H37.30 V107.50 H38.93" fill="none" stroke="#3a3a3a" stroke-width="0.75"/>
<path d="M42.22,61.34 H33.20 V93.33 H37.30" fill="none" stroke="#3a3a3a" stroke-width="0.75"/>
<path d="M45.00,123.64 H43.92 V124.93 H45.00" fill="none" stroke="#3a3a3a" stroke-width="0.75"/>
<path d="M45.00,126.21 H44.13 V127.50 H45.00" fill="none" stroke="#3a3a3a" stroke-width="0.75"/>
<path d="M45.00,128.79 H43.54 V130.07 H45.00" fill="none" stroke="#3a3a3a" stroke-width="0.75"/>
<path d="M44.13,126.86 H42.56 V129.43 H43.54" fill="none" stroke="#3a3a3a" stroke-width="0.75"/>
<path d="M43.92,124.29 H41.48 V128.14 H42.56" fill="none" stroke="#3a3a3a" stroke-width="0.75"/>
<path d="M45.00,131.36 H43.59 V132.64 H45.00" fill="none" stroke="#3a3a3a" stroke-width="0.75"/>
<path d="M45.00,133.93 H44.31 V135.21 H45.00" fill="none" stroke="#3a3a3a" stroke-width="0.75"/>
<path d="M44.31,134.57 H43.07 V136.50 H45.00" fill="none" stroke="#3a3a3a" stroke-width="0.75"/>
<path d="M43.59,132.00 H41.63 V135.54 H43.07" fill="none" stroke="#3a3a3a" stroke-width="0.75"/>
<path d="M45.00,139.07 H43.62 V140.36 H45.00" fill="none" stroke="#3a3a3a" stroke-width="0.75"/>
<path d="M45.00,137.79 H42.51 V139.71 H43.62" fill="none" stroke="#3a3a3a" stroke-width="0.75"/>
<path d="M41.63,133.77 H40.71 V138.75 H42.51" fill="none" stroke="#3a3a3a" stroke-width="0.75"/>
<path d="M41.48,126.21 H40.11 V136.26 H40.71" fill="none" stroke="#3a3a3a" stroke-width="0.75"/>
<path d="M45.00,141.67 H44.24 V143.00 H45.00" fill="none" stroke="#3a3a3a" stroke-width="0.75"/>
<path d="M45.00,144.33 H43.90 V145.67 H45.00" fill="none" stroke="#3a3a3a" stroke-width="0.75"/>
<path d="M44.24,142.33 H43.11 V145.00 H43.90" fill="none" stroke="#3a3a3a" stroke-width="0.75"/>
<path d="M45.00,147.00 H43.78 V148.33 H45.00" fill="none" stroke="#3a3a3a" stroke-width="0.75"/>
<path d="M43.11,143.67 H42.54 V147.67 H43.78" fill="none" stroke="#3a3a3a" stroke-width="0.75"/>
<path d="M45.00,149.67 H44.22 V151.00 H45.00" fill="none" stroke="#3a3a3a" stroke-width="0.75"/>
<path d="M44.22,150.33 H42.80 V152.33 H45.00" fill="none" stroke="#3a3a3a" stroke-width="0.75"/>
<path d="M45.00,153.67 H44.48 V155.00 H45.00" fill="none" stroke="#3a3a3a" stroke-width="0.75"/>
<path d="M42.80,151.33 H42.03 V154.33 H44.48" fill="none" stroke="#3a3a3a" stroke-width="0.75"/>
<path d="M45.00,157.67 H44.13 V159.00 H45.00" fill="none" stroke="#3a3a3a" stroke-width="0.75"/>
<path d="M45.00,156.33 H43.06 V158.33 H44.13" fill="none" stroke="#3a3a3a" stroke-width="0.75"/>
<path d="M45.00,163.00 H43.52 V164.33 H45.00" fill="none" stroke="#3a3a3a" stroke-width="0.75"/>
<path d="M45.00,161.67 H42.36 V163.67 H43.52" fill="none" stroke="#3a3a3a" stroke-width="0.75"/>
<path d="M45.00,160.33 H41.17 V162.67 H42.36" fill="none" stroke="#3a3a3a" stroke-width="0.75"/>
<path d="M43.06,157.33 H40.09 V161.50 H41.17" fill="none" stroke="#3a3a3a" stroke-width="0.75"/>
<path d="M42.03,152.83 H39.45 V159.42 H40.09" fill="none" stroke="#3a3a3a" stroke-width="0.75"/>
<path d="M42.54,145.67 H38.91 V156.12 H39.45" fill="none" stroke="#3a3a3a" stroke-width="0.75"/>
<path d="M45.00,165.68 H44.48 V167.03 H45.00" fill="none" stroke="#3a3a3a" stroke-width="0.75"/>
<path d="M45.00,168.38 H44.02 V169.72 H45.00" fill="none" stroke="#3a3a3a" stroke-width="0.75"/>
<path d="M44.48,166.35 H42.79 V169.05 H44.02" fill="none" stroke="#3a3a3a" stroke-width="0.75"/>
<path d="M45.00,171.07 H43.50 V172.43 H45.00" fill="none" stroke="#3a3a3a" stroke-width="0.75"/>
<path d="M42.79,167.70 H42.21 V171.75 H43.50" fill="none" stroke="#3a3a3a" stroke-width="0.75"/>
<path d="M45.00,173.78 H43.71 V175.12 H45.00" fill="none" stroke="#3a3a3a" stroke-width="0.75"/>
<path d="M43.71,174.45 H42.29 V176.47 H45.00" fill="none" stroke="#3a3a3a" stroke-width="0.75"/>
<path d="M42.29,175.46 H41.44 V177.82 H45.00" fill="none" stroke="#3a3a3a" stroke-width="0.75"/>
<path d="M45.00,179.18 H43.63 V180.53 H45.00" fill="none" stroke="#3a3a3a" stroke-width="0.75"/>
<path d="M43.63,179.85 H42.71 V181.88 H45.00" fill="none" stroke="#3a3a3a" stroke-width="0.75"/>
<path d="M41.44,176.64 H40.15 V180.86 H42.71" fill="none" stroke="#3a3a3a" stroke-width="0.75"/>
<path d="M45.00,183.22 H43.92 V184.57 H45.00" fill="none" stroke="#3a3a3a" stroke-width="0.75"/>
<path d="M43.92,183.90 H42.81 V185.93 H45.00" fill="none" stroke="#3a3a3a" stroke-width="0.75"/>
<path d="M45.00,187.28 H43.86 V188.62 H45.00" fill="none" stroke="#3a3a3a" stroke-width="0.75"/>
<path d="M42.81,184.91 H41.32 V187.95 H43.86" fill="none" stroke="#3a3a3a" stroke-width="0.75"/>
<path d="M45.00,189.97 H43.77 V191.32 H45.00" fill="none" stroke="#3a3a3a" stroke-width="0.75"/>
<path d="M41.32,186.43 H40.43 V190.65 H43.77" fill="none" stroke="#3a3a3a" stroke-width="0.75"/>
<path d="M40.15,178.75 H38.91 V188.54 H40.43" fill="none" stroke="#3a3a3a" stroke-width="0.75"/>
<path d="M42.21,169.73 H37.83 V183.65 H38.91" fill="none" stroke="#3a3a3a" stroke-width="0.75"/>
<path d="M38.91,150.90 H35.40 V176.69 H37.83" fill="none" stroke="#3a3a3a" stroke-width="0.75"/>
<path d="M40.11,131.24 H28.60 V163.79 H35.40" fill="none" stroke="#3a3a3a" stroke-width="0.75"/>
<path d="M33.20,77.34 H20.50 V147.51 H28.60" fill="none" stroke="#3a3a3a" stroke-width="0.75"/>
<path d="M45.00,192.60 H44.42 V193.80 H45.00" fill="none" stroke="#3a3a3a" stroke-width="0.75"/>
<path d="M45.00,195.00 H43.90 V196.20 H45.00" fill="none" stroke="#3a3a3a" stroke-width="0.75"/>
<path d="M43.90,195.60 H42.92 V197.40 H45.00" fill="none" stroke="#3a3a3a" stroke-width="0.75"/>
<path d="M44.42,193.20 H42.19 V196.50 H42.92" fill="none" stroke="#3a3a3a" stroke-width="0.75"/>
<path d="M45.00,198.62 H43.58 V199.88 H45.00" fill="none" stroke="#3a3a3a" stroke-width="0.75"/>
<path d="M45.00,202.38 H44.20 V203.62 H45.00" fill="none" stroke="#3a3a3a" stroke-width="0.75"/>
<path d="M45.00,201.12 H43.02 V203.00 H44.20" fill="none" stroke="#3a3a3a" stroke-width="0.75"/>
<path d="M43.58,199.25 H42.32 V202.06 H43.02" fill="none" stroke="#3a3a3a" stroke-width="0.75"/>
<path d="M45.00,206.12 H43.84 V207.38 H45.00" fill="none" stroke="#3a3a3a" stroke-width="0.75"/>
<path d="M45.00,204.88 H42.90 V206.75 H43.84" fill="none" stroke="#3a3a3a" stroke-width="0.75"/>
<path d="M42.32,200.66 H40.93 V205.81 H42.90" fill="none" stroke="#3a3a3a" stroke-width="0.75"/>
<path d="M42.19,194.85 H31.50 V203.23 H40.93" fill="none" stroke="#3a3a3a" stroke-width="0.75"/>
<path d="M45.00,209.93 H43.69 V211.21 H45.00" fill="none" stroke="#3a3a3a" stroke-width="0.75"/>
<path d="M45.00,208.64 H42.28 V210.57 H43.69" fill="none" stroke="#3a3a3a" stroke-width="0.75"/>
<path d="M45.00,212.50 H43.92 V213.79 H45.00" fill="none" stroke="#3a3a3a" stroke-width="0.75"/>
<path d="M43.92,213.14 H43.10 V215.07 H45.00" fill="none" stroke="#3a3a3a" stroke-width="0.75"/>
<path d="M42.28,209.61 H41.64 V214.11 H43.10" fill="none" stroke="#3a3a3a" stroke-width="0.75"/>
<path d="M45.00,216.36 H43.55 V217.64 H45.00" fill="none" stroke="#3a3a3a" stroke-width="0.75"/>
<path d="M43.55,217.00 H42.77 V218.93 H45.00" fill="none" stroke="#3a3a3a" stroke-width="0.75"/>
<path d="M42.77,217.96 H42.10 V220.21 H45.00" fill="none" stroke="#3a3a3a" stroke-width="0.75"/>
<path d="M45.00,221.50 H44.29 V222.79 H45.00" fill="none" stroke="#3a3a3a" stroke-width="0.75"/>
<path d="M45.00,224.07 H43.87 V225.36 H45.00" fill="none" stroke="#3a3a3a" stroke-width="0.75"/>
<path d="M44.29,222.14 H42.88 V224.71 H43.87" fill="none" stroke="#3a3a3a" stroke-width="0.75"/>
<path d="M42.10,219.09 H41.29 V223.43 H42.88" fill="none" stroke="#3a3a3a" stroke-width="0.75"/>
<path d="M41.64,211.86 H39.95 V221.26 H41.29" fill="none" stroke="#3a3a3a" stroke-width="0.75"/>
<path d="M45.00,228.00 H44.46 V229.33 H45.00" fill="none" stroke="#3a3a3a" stroke-width="0.75"/>
<path d="M45.00,226.67 H43.25 V228.67 H44.46" fill="none" stroke="#3a3a3a" stroke-width="0.75"/>
<path d="M45.00,232.00 H44.48 V233.33 H45.00" fill="none" stroke="#3a3a3a" stroke-width="0.75"/>
<path d="M45.00,230.67 H43.85 V232.67 H44.48" fill="none" stroke="#3a3a3a" stroke-width="0.75"/>
<path d="M45.00,234.67 H44.48 V236.00 H45.00" fill="none" stroke="#3a3a3a" stroke-width="0.75"/>
<path d="M43.85,231.67 H42.52 V235.33 H44.48" fill="none" stroke="#3a3a3a" stroke-width="0.75"/>
<path d="M43.25,227.67 H41.78 V233.50 H42.52" fill="none" stroke="#3a3a3a" stroke-width="0.75"/>
<path d="M45.00,238.67 H44.05 V240.00 H45.00" fill="none" stroke="#3a3a3a" stroke-width="0.75"/>
<path d="M45.00,237.33 H42.92 V239.33 H44.05" fill="none" stroke="#3a3a3a" stroke-width="0.75"/>
<path d="M45.00,241.33 H43.82 V242.67 H45.00" fill="none" stroke="#3a3a3a" stroke-width="0.75"/>
<path d="M43.82,242.00 H43.12 V244.00 H45.00" fill="none" stroke="#3a3a3a" stroke-width="0.75"/>
<path d="M45.00,246.67 H44.49 V248.00 H45.00" fill="none" stroke="#3a3a3a" stroke-width="0.75"/>
<path d="M45.00,245.33 H43.52 V247.33 H44.49" fill="none" stroke="#3a3a3a" stroke-width="0.75"/>
<path d="M43.12,243.00 H41.90 V246.33 H43.52" fill="none" stroke="#3a3a3a" stroke-width="0.75"/>
<path d="M42.92,238.33 H41.22 V244.67 H41.90" fill="none" stroke="#3a3a3a" stroke-width="0.75"/>
<path d="M41.78,230.58 H40.45 V241.50 H41.22" fill="none" stroke="#3a3a3a" stroke-width="0.75"/>
<path d="M45.00,249.33 H43.89 V250.67 H45.00" fill="none" stroke="#3a3a3a" stroke-width="0.75"/>
<path d="M43.89,250.00 H42.63 V252.00 H45.00" fill="none" stroke="#3a3a3a" stroke-width="0.75"/>
<path d="M45.00,253.33 H43.59 V254.67 H45.00" fill="none" stroke="#3a3a3a" stroke-width="0.75"/>
<path d="M45.00,256.00 H43.57 V257.33 H45.00" fill="none" stroke="#3a3a3a" stroke-width="0.75"/>
<path d="M43.59,254.00 H42.35 V256.67 H43.57" fill="none" stroke="#3a3a3a" stroke-width="0.75"/>
<path d="M42.63,251.00 H41.72 V255.33 H42.35" fill="none" stroke="#3a3a3a" stroke-width="0.75"/>
<path d="M40.45,236.04 H39.50 V253.17 H41.72" fill="none" stroke="#3a3a3a" stroke-width="0.75"/>
<path d="M39.95,216.56 H33.40 V244.60 H39.50" fill="none" stroke="#3a3a3a" stroke-width="0.75"/>
<path d="M45.00,260.00 H43.62 V261.33 H45.00" fill="none" stroke="#3a3a3a" stroke-width="0.75"/>
<path d="M45.00,258.67 H42.32 V260.67 H43.62" fill="none" stroke="#3a3a3a" stroke-width="0.75"/>
<path d="M45.00,262.67 H44.04 V264.00 H45.00" fill="none" stroke="#3a3a3a" stroke-width="0.75"/>
<path d="M42.32,259.67 H41.17 V263.33 H44.04" fill="none" stroke="#3a3a3a" stroke-width="0.75"/>
<path d="M45.00,265.33 H43.68 V266.67 H45.00" fill="none" stroke="#3a3a3a" stroke-width="0.75"/>
<path d="M45.00,268.00 H43.78 V269.33 H45.00" fill="none" stroke="#3a3a3a" stroke-width="0.75"/>
<path d="M43.68,266.00 H42.97 V268.67 H43.78" fill="none" stroke="#3a3a3a" stroke-width="0.75"/>
<path d="M41.17,261.50 H39.77 V267.33 H42.97" fill="none" stroke="#3a3a3a" stroke-width="0.75"/>
<path d="M45.00,270.65 H43.59 V271.95 H45.00" fill="none" stroke="#3a3a3a" stroke-width="0.75"/>
<path d="M43.59,271.30 H42.23 V273.25 H45.00" fill="none" stroke="#3a3a3a" stroke-width="0.75"/>
<path d="M45.00,274.55 H44.42 V275.85 H45.00" fill="none" stroke="#3a3a3a" stroke-width="0.75"/>
<path d="M42.23,272.27 H41.29 V275.20 H44.42" fill="none" stroke="#3a3a3a" stroke-width="0.75"/>
<path d="M45.00,277.15 H43.73 V278.45 H45.00" fill="none" stroke="#3a3a3a" stroke-width="0.75"/>
<path d="M41.29,273.74 H40.31 V277.80 H43.73" fill="none" stroke="#3a3a3a" stroke-width="0.75"/>
<path d="M45.00,281.05 H44.44 V282.35 H45.00" fill="none" stroke="#3a3a3a" stroke-width="0.75"/>
<path d="M45.00,279.75 H43.14 V281.70 H44.44" fill="none" stroke="#3a3a3a" stroke-width="0.75"/>
<path d="M40.31,275.77 H39.63 V280.73 H43.14" fill="none" stroke="#3a3a3a" stroke-width="0.75"/>
<path d="M39.77,264.42 H32.10 V278.25 H39.63" fill="none" stroke="#3a3a3a" stroke-width="0.75"/>
<path d="M33.40,230.58 H26.30 V271.33 H32.10" fill="none" stroke="#3a3a3a" stroke-width="0.75"/>
<path d="M31.50,199.04 H18.30 V250.96 H26.30" fill="none" stroke="#3a3a3a" stroke-width="0.75"/>
<path d="M20.50,112.42 H13.50 V225.00 H18.30" fill="none" stroke="#3a3a3a" stroke-width="0.75"/>
<rect x="43.6" y="57" width="1.4" height="226" fill="#222" opacity="0.7"/>
<text transform="translate(53.9,288.9) rotate(-90)" font-size="7.7" text-anchor="end" fill="#2a2a2a" stroke="#2a2a2a" stroke-width="0.15" textLength="13.9" lengthAdjust="spacingAndGlyphs">S19</text>
<text transform="translate(66.6,288.9) rotate(-90)" font-size="7.7" text-anchor="end" fill="#2a2a2a" stroke="#2a2a2a" stroke-width="0.15" textLength="13.9" lengthAdjust="spacingAndGlyphs">S36</text>
<text transform="translate(79.3,288.9) rotate(-90)" font-size="7.7" text-anchor="end" fill="#2a2a2a" stroke="#2a2a2a" stroke-width="0.15" textLength="13.9" lengthAdjust="spacingAndGlyphs">S43</text>
<text transform="translate(91.9,288.9) rotate(-90)" font-size="7.7" text-anchor="end" fill="#2a2a2a" stroke="#2a2a2a" stroke-width="0.15" textLength="13.9" lengthAdjust="spacingAndGlyphs">S01</text>
<text transform="translate(104.6,288.9) rotate(-90)" font-size="7.7" text-anchor="end" fill="#2a2a2a" stroke="#2a2a2a" stroke-width="0.15" textLength="13.9" lengthAdjust="spacingAndGlyphs">S07</text>
<text transform="translate(117.3,288.9) rotate(-90)" font-size="7.7" text-anchor="end" fill="#2a2a2a" stroke="#2a2a2a" stroke-width="0.15" textLength="13.9" lengthAdjust="spacingAndGlyphs">S53</text>
<text transform="translate(129.9,288.9) rotate(-90)" font-size="7.7" text-anchor="end" fill="#2a2a2a" stroke="#2a2a2a" stroke-width="0.15" textLength="13.9" lengthAdjust="spacingAndGlyphs">S58</text>
<text transform="translate(142.6,288.9) rotate(-90)" font-size="7.7" text-anchor="end" fill="#2a2a2a" stroke="#2a2a2a" stroke-width="0.15" textLength="13.9" lengthAdjust="spacingAndGlyphs">S37</text>
<text transform="translate(155.3,288.9) rotate(-90)" font-size="7.7" text-anchor="end" fill="#2a2a2a" stroke="#2a2a2a" stroke-width="0.15" textLength="22.6" lengthAdjust="spacingAndGlyphs">S1023</text>
<text transform="translate(167.9,288.9) rotate(-90)" font-size="7.7" text-anchor="end" fill="#2a2a2a" stroke="#2a2a2a" stroke-width="0.15" textLength="13.9" lengthAdjust="spacingAndGlyphs">S27</text>
<text transform="translate(180.6,288.9) rotate(-90)" font-size="7.7" text-anchor="end" fill="#2a2a2a" stroke="#2a2a2a" stroke-width="0.15" textLength="13.9" lengthAdjust="spacingAndGlyphs">S09</text>
<text transform="translate(193.3,288.9) rotate(-90)" font-size="7.7" text-anchor="end" fill="#2a2a2a" stroke="#2a2a2a" stroke-width="0.15" textLength="13.9" lengthAdjust="spacingAndGlyphs">S46</text>
<rect x="204.8" y="61.8" width="5.8" height="91.3" fill="url(#cb)"/>
<text x="203.1" y="48.5" font-size="7.30" text-anchor="start" fill="#2a2a2a"  textLength="73.7" lengthAdjust="spacingAndGlyphs">Normalized Methylation</text>
<text x="203.1" y="57.8" font-size="7.30" text-anchor="start" fill="#2a2a2a"  textLength="17.2" lengthAdjust="spacingAndGlyphs">Value</text>
<text x="213.2" y="81.9" font-size="7.40" text-anchor="start" fill="#2a2a2a"  textLength="10.4" lengthAdjust="spacingAndGlyphs">0.8</text>
<text x="213.2" y="100.5" font-size="7.40" text-anchor="start" fill="#2a2a2a"  textLength="10.4" lengthAdjust="spacingAndGlyphs">0.6</text>
<text x="213.2" y="119.2" font-size="7.40" text-anchor="start" fill="#2a2a2a"  textLength="10.4" lengthAdjust="spacingAndGlyphs">0.4</text>
<text x="213.2" y="137.9" font-size="7.40" text-anchor="start" fill="#2a2a2a"  textLength="10.4" lengthAdjust="spacingAndGlyphs">0.2</text>
<rect x="203.8" y="167.8" width="8.7" height="7.8" fill="#1a8bbf"/>
<rect x="203.8" y="177.4" width="8.7" height="9" fill="#f17f6a"/>
<text x="216.0" y="174.2" font-size="7.10" text-anchor="start" fill="#2a2a2a"  textLength="53.6" lengthAdjust="spacingAndGlyphs">Primary Sensitive</text>
<text x="216.0" y="184.2" font-size="7.10" text-anchor="start" fill="#2a2a2a"  textLength="75.3" lengthAdjust="spacingAndGlyphs">Primary Non-Responder</text>
<text x="312.9" y="9.6" font-size="11.80" text-anchor="start" fill="#111" font-weight="bold">B</text>
<text x="338.8" y="22.5" font-size="9.20" text-anchor="start" fill="#2a2a2a"  textLength="121.2" lengthAdjust="spacingAndGlyphs">Differential Methylation GSEA</text>
<text x="353.0" y="35.0" font-size="9.20" text-anchor="start" fill="#2a2a2a"  textLength="93.8" lengthAdjust="spacingAndGlyphs">PRC2 Targets in ESCs</text>
<path d="M343.5,90.3 V42.4 H456.3 V91.3" fill="none" stroke="#2a2a2a" stroke-width="0.90"/>
<line x1="340.7" y1="90.3" x2="343.5" y2="90.3" stroke="#2a2a2a" stroke-width="0.90"/>
<line x1="340.7" y1="83.0" x2="343.5" y2="83.0" stroke="#2a2a2a" stroke-width="0.90"/>
<line x1="340.7" y1="75.7" x2="343.5" y2="75.7" stroke="#2a2a2a" stroke-width="0.90"/>
<line x1="340.7" y1="68.3" x2="343.5" y2="68.3" stroke="#2a2a2a" stroke-width="0.90"/>
<line x1="340.7" y1="61.0" x2="343.5" y2="61.0" stroke="#2a2a2a" stroke-width="0.90"/>
<line x1="340.7" y1="53.7" x2="343.5" y2="53.7" stroke="#2a2a2a" stroke-width="0.90"/>
<line x1="340.7" y1="46.4" x2="343.5" y2="46.4" stroke="#2a2a2a" stroke-width="0.90"/>
<text x="326.9" y="49.0" font-size="7.30" text-anchor="start" fill="#2a2a2a"  textLength="10.7" lengthAdjust="spacingAndGlyphs">0.6</text>
<text x="326.9" y="70.9" font-size="7.30" text-anchor="start" fill="#2a2a2a"  textLength="10.7" lengthAdjust="spacingAndGlyphs">0.3</text>
<text x="326.9" y="92.9" font-size="7.30" text-anchor="start" fill="#2a2a2a"  textLength="10.7" lengthAdjust="spacingAndGlyphs">0.0</text>
<text transform="translate(320.6,68.2) rotate(-90)" font-size="8.6" text-anchor="middle" fill="#2a2a2a" stroke="#2a2a2a" stroke-width="0.25" textLength="52" lengthAdjust="spacingAndGlyphs">Enrichment Score</text>
<polyline points="343.8,90.3 345.3,81.5 347.0,72.7 349.2,65.4 352.0,57.4 356.2,50.4 360.0,46.6 364.2,44.7 370.0,45.1 378.0,47.1 386.2,50.3 398.0,56.1 409.3,63.1 420.0,70.3 432.4,78.1 441.0,84.0 448.5,89.6" fill="none" stroke="#78b846" stroke-width="1.05" stroke-linejoin="round"/>
<text x="409.2" y="48.8" font-size="6.20" text-anchor="start" fill="#2a2a2a"  textLength="40.4" lengthAdjust="spacingAndGlyphs">Nominal <tspan font-style="italic">P</tspan>: 0.0</text>
<text x="409.2" y="56.4" font-size="6.20" text-anchor="start" fill="#2a2a2a"  textLength="45.6" lengthAdjust="spacingAndGlyphs">FDR q-value: 0.0</text>
<text x="409.2" y="63.6" font-size="6.20" text-anchor="start" fill="#2a2a2a"  textLength="33.0" lengthAdjust="spacingAndGlyphs">NES = 2.22</text>
<line x1="341.0" y1="90.3" x2="456.3" y2="90.3" stroke="#222" stroke-width="1.10"/>
<g filter="url(#soft2)">
<rect x="344.0" y="92.6" width="112.3" height="16.3" fill="#161616"/>
<rect x="350.6" y="92.6" width="0.8" height="16.3" fill="#444"/>
<rect x="360.8" y="92.6" width="1.1" height="16.3" fill="#e0e0e0"/>
<rect x="362" y="92.6" width="87.5" height="16.3" fill="url(#bcbase)"/>
<rect x="362.4" y="92.6" width="1.5" height="16.3" fill="rgb(73,73,73)"/>
<rect x="364.5" y="92.6" width="1.4" height="16.3" fill="rgb(210,210,210)"/>
<rect x="367.2" y="92.6" width="1.6" height="16.3" fill="rgb(36,36,36)"/>
<rect x="369.6" y="92.6" width="1.1" height="16.3" fill="rgb(115,115,115)"/>
<rect x="371.9" y="92.6" width="1.7" height="16.3" fill="rgb(77,77,77)"/>
<rect x="373.9" y="92.6" width="1.7" height="16.3" fill="rgb(59,59,59)"/>
<rect x="376.4" y="92.6" width="0.6" height="16.3" fill="rgb(53,53,53)"/>
<rect x="377.6" y="92.6" width="0.9" height="16.3" fill="rgb(214,214,214)"/>
<rect x="379.0" y="92.6" width="0.9" height="16.3" fill="rgb(55,55,55)"/>
<rect x="380.3" y="92.6" width="1.4" height="16.3" fill="rgb(156,156,156)"/>
<rect x="382.2" y="92.6" width="0.7" height="16.3" fill="rgb(175,175,175)"/>
<rect x="383.6" y="92.6" width="1.7" height="16.3" fill="rgb(167,167,167)"/>
<rect x="386.2" y="92.6" width="1.0" height="16.3" fill="rgb(166,166,166)"/>
<rect x="388.1" y="92.6" width="1.2" height="16.3" fill="rgb(178,178,178)"/>
<rect x="390.4" y="92.6" width="1.6" height="16.3" fill="rgb(45,45,45)"/>
<rect x="392.7" y="92.6" width="1.4" height="16.3" fill="rgb(59,59,59)"/>
<rect x="395.3" y="92.6" width="1.2" height="16.3" fill="rgb(215,215,215)"/>
<rect x="397.7" y="92.6" width="1.2" height="16.3" fill="rgb(213,213,213)"/>
<rect x="399.2" y="92.6" width="1.8" height="16.3" fill="rgb(66,66,66)"/>
<rect x="402.0" y="92.6" width="1.2" height="16.3" fill="rgb(204,204,204)"/>
<rect x="404.7" y="92.6" width="1.6" height="16.3" fill="rgb(171,171,171)"/>
<rect x="406.9" y="92.6" width="1.3" height="16.3" fill="rgb(240,240,240)"/>
<rect x="409.1" y="92.6" width="1.7" height="16.3" fill="rgb(222,222,222)"/>
<rect x="411.1" y="92.6" width="1.7" height="16.3" fill="rgb(193,193,193)"/>
<rect x="414.0" y="92.6" width="1.3" height="16.3" fill="rgb(176,176,176)"/>
<rect x="416.1" y="92.6" width="1.3" height="16.3" fill="rgb(74,74,74)"/>
<rect x="417.9" y="92.6" width="1.0" height="16.3" fill="rgb(221,221,221)"/>
<rect x="419.6" y="92.6" width="1.3" height="16.3" fill="rgb(227,227,227)"/>
<rect x="421.8" y="92.6" width="0.8" height="16.3" fill="rgb(45,45,45)"/>
<rect x="423.6" y="92.6" width="1.6" height="16.3" fill="rgb(200,200,200)"/>
<rect x="426.5" y="92.6" width="1.4" height="16.3" fill="rgb(238,238,238)"/>
<rect x="428.3" y="92.6" width="1.5" height="16.3" fill="rgb(35,35,35)"/>
<rect x="430.4" y="92.6" width="1.0" height="16.3" fill="rgb(63,63,63)"/>
<rect x="431.8" y="92.6" width="0.8" height="16.3" fill="rgb(58,58,58)"/>
<rect x="433.2" y="92.6" width="1.0" height="16.3" fill="rgb(186,186,186)"/>
<rect x="435.1" y="92.6" width="1.1" height="16.3" fill="rgb(52,52,52)"/>
<rect x="436.7" y="92.6" width="1.2" height="16.3" fill="rgb(75,75,75)"/>
<rect x="438.4" y="92.6" width="0.6" height="16.3" fill="rgb(211,211,211)"/>
<rect x="439.4" y="92.6" width="0.8" height="16.3" fill="rgb(67,67,67)"/>
<rect x="441.3" y="92.6" width="0.9" height="16.3" fill="rgb(197,197,197)"/>
<rect x="443.7" y="92.6" width="0.9" height="16.3" fill="rgb(197,197,197)"/>
<rect x="445.6" y="92.6" width="1.0" height="16.3" fill="rgb(230,230,230)"/>
<rect x="447.7" y="92.6" width="1.8" height="16.3" fill="rgb(48,48,48)"/>
<rect x="449.5" y="92.6" width="6.8" height="16.3" fill="#f6f6f6"/>
</g>
<rect x="344.0" y="109.3" width="112.3" height="8.3" fill="url(#gs)"/>
<text x="343.3" y="127.5" font-size="7.60" text-anchor="start" fill="#2a2a2a"  textLength="83.0" lengthAdjust="spacingAndGlyphs">Hypermethylated in PNR</text>
<text x="351.3" y="147.5" font-size="9.20" text-anchor="start" fill="#2a2a2a"  textLength="98.7" lengthAdjust="spacingAndGlyphs">SUZ12 Targets in ESCs</text>
<path d="M343.5,198.5 V151.3 H456.3 V199.5" fill="none" stroke="#2a2a2a" stroke-width="0.90"/>
<line x1="340.7" y1="198.5" x2="343.5" y2="198.5" stroke="#2a2a2a" stroke-width="0.90"/>
<line x1="340.7" y1="191.0" x2="343.5" y2="191.0" stroke="#2a2a2a" stroke-width="0.90"/>
<line x1="340.7" y1="183.5" x2="343.5" y2="183.5" stroke="#2a2a2a" stroke-width="0.90"/>
<line x1="340.7" y1="176.0" x2="343.5" y2="176.0" stroke="#2a2a2a" stroke-width="0.90"/>
<line x1="340.7" y1="168.5" x2="343.5" y2="168.5" stroke="#2a2a2a" stroke-width="0.90"/>
<line x1="340.7" y1="161.0" x2="343.5" y2="161.0" stroke="#2a2a2a" stroke-width="0.90"/>
<line x1="340.7" y1="153.5" x2="343.5" y2="153.5" stroke="#2a2a2a" stroke-width="0.90"/>
<text x="326.9" y="156.1" font-size="7.30" text-anchor="start" fill="#2a2a2a"  textLength="10.7" lengthAdjust="spacingAndGlyphs">0.6</text>
<text x="326.9" y="178.6" font-size="7.30" text-anchor="start" fill="#2a2a2a"  textLength="10.7" lengthAdjust="spacingAndGlyphs">0.3</text>
<text x="326.9" y="201.1" font-size="7.30" text-anchor="start" fill="#2a2a2a"  textLength="10.7" lengthAdjust="spacingAndGlyphs">0.0</text>
<text transform="translate(320.6,175.5) rotate(-90)" font-size="8.6" text-anchor="middle" fill="#2a2a2a" stroke="#2a2a2a" stroke-width="0.25" textLength="52" lengthAdjust="spacingAndGlyphs">Enrichment Score</text>
<polyline points="344.0,198.5 344.2,195.3 346.5,185.8 349.2,175.7 353.9,163.0 358.5,156.1 362.0,153.9 365.0,153.1 370.0,153.7 377.0,155.4 390.8,160.7 409.3,172.2 427.8,185.0 440.0,192.5 448.5,197.8" fill="none" stroke="#78b846" stroke-width="1.05" stroke-linejoin="round"/>
<text x="409.2" y="157.0" font-size="6.20" text-anchor="start" fill="#2a2a2a"  textLength="40.4" lengthAdjust="spacingAndGlyphs">Nominal <tspan font-style="italic">P</tspan>: 0.0</text>
<text x="409.2" y="164.6" font-size="6.20" text-anchor="start" fill="#2a2a2a"  textLength="45.6" lengthAdjust="spacingAndGlyphs">FDR q-value: 0.0</text>
<text x="409.2" y="171.8" font-size="6.20" text-anchor="start" fill="#2a2a2a"  textLength="33.0" lengthAdjust="spacingAndGlyphs">NES = 2.18</text>
<line x1="341.0" y1="198.5" x2="456.3" y2="198.5" stroke="#222" stroke-width="1.10"/>
<g filter="url(#soft2)">
<rect x="344.0" y="201.2" width="112.3" height="16.3" fill="#161616"/>
<rect x="360.8" y="201.2" width="1.1" height="16.3" fill="#e0e0e0"/>
<rect x="362" y="201.2" width="87.5" height="16.3" fill="url(#bcbase)"/>
<rect x="362.4" y="201.2" width="0.7" height="16.3" fill="rgb(167,167,167)"/>
<rect x="363.5" y="201.2" width="1.4" height="16.3" fill="rgb(155,155,155)"/>
<rect x="365.5" y="201.2" width="1.3" height="16.3" fill="rgb(148,148,148)"/>
<rect x="367.3" y="201.2" width="1.5" height="16.3" fill="rgb(208,208,208)"/>
<rect x="370.3" y="201.2" width="1.1" height="16.3" fill="rgb(148,148,148)"/>
<rect x="372.0" y="201.2" width="1.2" height="16.3" fill="rgb(36,36,36)"/>
<rect x="373.9" y="201.2" width="1.2" height="16.3" fill="rgb(232,232,232)"/>
<rect x="376.1" y="201.2" width="1.0" height="16.3" fill="rgb(36,36,36)"/>
<rect x="377.5" y="201.2" width="1.4" height="16.3" fill="rgb(237,237,237)"/>
<rect x="379.5" y="201.2" width="1.5" height="16.3" fill="rgb(169,169,169)"/>
<rect x="382.3" y="201.2" width="1.0" height="16.3" fill="rgb(171,171,171)"/>
<rect x="384.8" y="201.2" width="1.5" height="16.3" fill="rgb(135,135,135)"/>
<rect x="387.5" y="201.2" width="1.2" height="16.3" fill="rgb(218,218,218)"/>
<rect x="390.1" y="201.2" width="1.0" height="16.3" fill="rgb(232,232,232)"/>
<rect x="392.5" y="201.2" width="1.3" height="16.3" fill="rgb(158,158,158)"/>
<rect x="395.2" y="201.2" width="0.9" height="16.3" fill="rgb(162,162,162)"/>
<rect x="396.7" y="201.2" width="1.7" height="16.3" fill="rgb(143,143,143)"/>
<rect x="399.0" y="201.2" width="1.7" height="16.3" fill="rgb(154,154,154)"/>
<rect x="401.9" y="201.2" width="1.4" height="16.3" fill="rgb(220,220,220)"/>
<rect x="404.3" y="201.2" width="1.2" height="16.3" fill="rgb(206,206,206)"/>
<rect x="407.0" y="201.2" width="1.6" height="16.3" fill="rgb(145,145,145)"/>
<rect x="409.7" y="201.2" width="1.5" height="16.3" fill="rgb(154,154,154)"/>
<rect x="411.6" y="201.2" width="0.9" height="16.3" fill="rgb(160,160,160)"/>
<rect x="413.8" y="201.2" width="1.6" height="16.3" fill="rgb(58,58,58)"/>
<rect x="416.0" y="201.2" width="1.1" height="16.3" fill="rgb(74,74,74)"/>
<rect x="418.3" y="201.2" width="0.8" height="16.3" fill="rgb(51,51,51)"/>
<rect x="420.2" y="201.2" width="0.6" height="16.3" fill="rgb(77,77,77)"/>
<rect x="422.0" y="201.2" width="1.6" height="16.3" fill="rgb(46,46,46)"/>
<rect x="424.1" y="201.2" width="1.1" height="16.3" fill="rgb(66,66,66)"/>
<rect x="425.5" y="201.2" width="0.6" height="16.3" fill="rgb(162,162,162)"/>
<rect x="426.8" y="201.2" width="0.7" height="16.3" fill="rgb(199,199,199)"/>
<rect x="428.3" y="201.2" width="1.5" height="16.3" fill="rgb(55,55,55)"/>
<rect x="431.0" y="201.2" width="1.6" height="16.3" fill="rgb(202,202,202)"/>
<rect x="433.8" y="201.2" width="1.4" height="16.3" fill="rgb(212,212,212)"/>
<rect x="435.8" y="201.2" width="1.6" height="16.3" fill="rgb(55,55,55)"/>
<rect x="437.9" y="201.2" width="1.2" height="16.3" fill="rgb(185,185,185)"/>
<rect x="439.6" y="201.2" width="1.3" height="16.3" fill="rgb(179,179,179)"/>
<rect x="441.8" y="201.2" width="0.8" height="16.3" fill="rgb(60,60,60)"/>
<rect x="442.9" y="201.2" width="0.7" height="16.3" fill="rgb(42,42,42)"/>
<rect x="444.7" y="201.2" width="1.7" height="16.3" fill="rgb(248,248,248)"/>
<rect x="447.9" y="201.2" width="0.9" height="16.3" fill="rgb(224,224,224)"/>
<rect x="449.5" y="201.2" width="6.8" height="16.3" fill="#f6f6f6"/>
</g>
<rect x="344.0" y="217.9" width="112.3" height="7.9" fill="url(#gs)"/>
<text x="357.0" y="245.0" font-size="9.20" text-anchor="start" fill="#2a2a2a"  textLength="88.0" lengthAdjust="spacingAndGlyphs">EED Targets in ESCs</text>
<path d="M343.5,297.6 V250.2 H456.3 V298.6" fill="none" stroke="#2a2a2a" stroke-width="0.90"/>
<line x1="340.7" y1="297.6" x2="343.5" y2="297.6" stroke="#2a2a2a" stroke-width="0.90"/>
<line x1="340.7" y1="290.1" x2="343.5" y2="290.1" stroke="#2a2a2a" stroke-width="0.90"/>
<line x1="340.7" y1="282.5" x2="343.5" y2="282.5" stroke="#2a2a2a" stroke-width="0.90"/>
<line x1="340.7" y1="275.0" x2="343.5" y2="275.0" stroke="#2a2a2a" stroke-width="0.90"/>
<line x1="340.7" y1="267.5" x2="343.5" y2="267.5" stroke="#2a2a2a" stroke-width="0.90"/>
<line x1="340.7" y1="260.0" x2="343.5" y2="260.0" stroke="#2a2a2a" stroke-width="0.90"/>
<line x1="340.7" y1="252.4" x2="343.5" y2="252.4" stroke="#2a2a2a" stroke-width="0.90"/>
<text x="326.9" y="255.0" font-size="7.30" text-anchor="start" fill="#2a2a2a"  textLength="10.7" lengthAdjust="spacingAndGlyphs">0.6</text>
<text x="326.9" y="277.6" font-size="7.30" text-anchor="start" fill="#2a2a2a"  textLength="10.7" lengthAdjust="spacingAndGlyphs">0.3</text>
<text x="326.9" y="300.2" font-size="7.30" text-anchor="start" fill="#2a2a2a"  textLength="10.7" lengthAdjust="spacingAndGlyphs">0.0</text>
<text transform="translate(320.6,275.6) rotate(-90)" font-size="8.6" text-anchor="middle" fill="#2a2a2a" stroke="#2a2a2a" stroke-width="0.25" textLength="52" lengthAdjust="spacingAndGlyphs">Enrichment Score</text>
<polyline points="344.0,297.6 344.2,294.3 346.5,285.6 349.2,277.0 353.9,263.2 358.5,255.8 362.0,253.5 365.4,252.8 370.0,252.9 374.6,253.5 386.2,258.1 398.0,265.2 409.3,272.4 427.8,285.1 440.0,292.3 448.5,296.7" fill="none" stroke="#78b846" stroke-width="1.05" stroke-linejoin="round"/>
<text x="409.2" y="256.1" font-size="6.20" text-anchor="start" fill="#2a2a2a"  textLength="40.4" lengthAdjust="spacingAndGlyphs">Nominal <tspan font-style="italic">P</tspan>: 0.0</text>
<text x="409.2" y="263.7" font-size="6.20" text-anchor="start" fill="#2a2a2a"  textLength="45.6" lengthAdjust="spacingAndGlyphs">FDR q-value: 0.0</text>
<text x="409.2" y="270.9" font-size="6.20" text-anchor="start" fill="#2a2a2a"  textLength="33.0" lengthAdjust="spacingAndGlyphs">NES = 2.17</text>
<line x1="341.0" y1="297.6" x2="456.3" y2="297.6" stroke="#222" stroke-width="1.10"/>
<g filter="url(#soft2)">
<rect x="344.0" y="300.3" width="112.3" height="16.5" fill="#161616"/>
<rect x="360.8" y="300.3" width="1.1" height="16.5" fill="#e0e0e0"/>
<rect x="362" y="300.3" width="87.5" height="16.5" fill="url(#bcbase)"/>
<rect x="362.4" y="300.3" width="1.0" height="16.5" fill="rgb(59,59,59)"/>
<rect x="364.5" y="300.3" width="0.6" height="16.5" fill="rgb(115,115,115)"/>
<rect x="366.4" y="300.3" width="1.8" height="16.5" fill="rgb(45,45,45)"/>
<rect x="369.0" y="300.3" width="1.4" height="16.5" fill="rgb(143,143,143)"/>
<rect x="370.9" y="300.3" width="1.2" height="16.5" fill="rgb(168,168,168)"/>
<rect x="373.3" y="300.3" width="1.5" height="16.5" fill="rgb(121,121,121)"/>
<rect x="375.8" y="300.3" width="1.6" height="16.5" fill="rgb(36,36,36)"/>
<rect x="378.3" y="300.3" width="1.5" height="16.5" fill="rgb(173,173,173)"/>
<rect x="381.2" y="300.3" width="1.1" height="16.5" fill="rgb(229,229,229)"/>
<rect x="383.8" y="300.3" width="0.8" height="16.5" fill="rgb(130,130,130)"/>
<rect x="385.1" y="300.3" width="1.4" height="16.5" fill="rgb(152,152,152)"/>
<rect x="387.1" y="300.3" width="1.0" height="16.5" fill="rgb(211,211,211)"/>
<rect x="389.1" y="300.3" width="1.4" height="16.5" fill="rgb(182,182,182)"/>
<rect x="392.0" y="300.3" width="1.4" height="16.5" fill="rgb(190,190,190)"/>
<rect x="393.9" y="300.3" width="1.7" height="16.5" fill="rgb(189,189,189)"/>
<rect x="396.5" y="300.3" width="1.6" height="16.5" fill="rgb(146,146,146)"/>
<rect x="399.1" y="300.3" width="1.6" height="16.5" fill="rgb(199,199,199)"/>
<rect x="402.2" y="300.3" width="1.1" height="16.5" fill="rgb(71,71,71)"/>
<rect x="403.8" y="300.3" width="1.6" height="16.5" fill="rgb(231,231,231)"/>
<rect x="405.8" y="300.3" width="1.5" height="16.5" fill="rgb(142,142,142)"/>
<rect x="408.0" y="300.3" width="1.2" height="16.5" fill="rgb(200,200,200)"/>
<rect x="410.7" y="300.3" width="1.3" height="16.5" fill="rgb(201,201,201)"/>
<rect x="412.3" y="300.3" width="1.3" height="16.5" fill="rgb(53,53,53)"/>
<rect x="414.1" y="300.3" width="1.0" height="16.5" fill="rgb(74,74,74)"/>
<rect x="416.6" y="300.3" width="1.2" height="16.5" fill="rgb(170,170,170)"/>
<rect x="418.6" y="300.3" width="1.3" height="16.5" fill="rgb(184,184,184)"/>
<rect x="421.0" y="300.3" width="1.1" height="16.5" fill="rgb(181,181,181)"/>
<rect x="423.2" y="300.3" width="1.8" height="16.5" fill="rgb(48,48,48)"/>
<rect x="425.9" y="300.3" width="1.1" height="16.5" fill="rgb(201,201,201)"/>
<rect x="428.0" y="300.3" width="1.4" height="16.5" fill="rgb(62,62,62)"/>
<rect x="429.8" y="300.3" width="1.4" height="16.5" fill="rgb(184,184,184)"/>
<rect x="431.9" y="300.3" width="0.6" height="16.5" fill="rgb(202,202,202)"/>
<rect x="432.9" y="300.3" width="0.9" height="16.5" fill="rgb(216,216,216)"/>
<rect x="434.6" y="300.3" width="1.0" height="16.5" fill="rgb(179,179,179)"/>
<rect x="436.4" y="300.3" width="1.0" height="16.5" fill="rgb(229,229,229)"/>
<rect x="438.1" y="300.3" width="1.3" height="16.5" fill="rgb(164,164,164)"/>
<rect x="440.5" y="300.3" width="1.6" height="16.5" fill="rgb(213,213,213)"/>
<rect x="442.7" y="300.3" width="1.4" height="16.5" fill="rgb(54,54,54)"/>
<rect x="444.5" y="300.3" width="1.6" height="16.5" fill="rgb(219,219,219)"/>
<rect x="447.0" y="300.3" width="1.0" height="16.5" fill="rgb(178,178,178)"/>
<rect x="449.5" y="300.3" width="6.8" height="16.5" fill="#f6f6f6"/>
</g>
<rect x="344.0" y="317.2" width="112.3" height="8.4" fill="url(#gs)"/>
<text x="0.1" y="334.7" font-size="11.80" text-anchor="start" fill="#111" font-weight="bold">C</text>
<text x="125.3" y="348.9" font-size="9.20" text-anchor="start" fill="#2a2a2a"  textLength="180.1" lengthAdjust="spacingAndGlyphs">Methylation Profile Characterization Scheme</text>
<circle cx="85.0" cy="372.0" r="6.5" fill="#7e2f8f" stroke="#d7b5e2" stroke-width="0.8"/>
<circle cx="77.1" cy="379.3" r="6.5" fill="#7e2f8f" stroke="#d7b5e2" stroke-width="0.8"/>
<circle cx="90.8" cy="380.9" r="6.5" fill="#7e2f8f" stroke="#d7b5e2" stroke-width="0.8"/>
<text x="58.8" y="399.9" font-size="7.90" text-anchor="start" fill="#7a3a8a"  textLength="51.6" lengthAdjust="spacingAndGlyphs">B-ALL (<tspan font-style="italic">n</tspan> = 29)</text>
<circle cx="85.3" cy="411.5" r="6.5" fill="#f2aaa8" stroke="#f9d4d2" stroke-width="0.8"/>
<circle cx="77.2" cy="419.5" r="6.5" fill="#f2aaa8" stroke="#f9d4d2" stroke-width="0.8"/>
<circle cx="91.0" cy="421.0" r="6.5" fill="#f2aaa8" stroke="#f9d4d2" stroke-width="0.8"/>
<text x="61.3" y="439.1" font-size="7.90" text-anchor="start" fill="#dca0a0"  textLength="45.6" lengthAdjust="spacingAndGlyphs">AML (<tspan font-style="italic">n</tspan> = 15)</text>
<circle cx="85.4" cy="453.0" r="6.6" fill="#c2e2ab" stroke="#a9d28f" stroke-width="0.6"/>
<circle cx="76.9" cy="460.5" r="6.6" fill="#c2e2ab" stroke="#a9d28f" stroke-width="0.6"/>
<circle cx="91.0" cy="462.2" r="6.6" fill="#c2e2ab" stroke="#a9d28f" stroke-width="0.6"/>
<text x="58.5" y="481.0" font-size="7.90" text-anchor="start" fill="#8db77a"  textLength="51.3" lengthAdjust="spacingAndGlyphs">T-AML (<tspan font-style="italic">n</tspan> = 30)</text>
<circle cx="174.8" cy="416.5" r="52.4" fill="none" stroke="#abaed9" stroke-width="0.9"/>
<circle cx="242.8" cy="416.5" r="52.4" fill="none" stroke="#c42d7f" stroke-width="1.3"/>
<text x="126.7" y="417.1" font-size="7.50" text-anchor="start" fill="#2a2a2a"  textLength="58.6" lengthAdjust="spacingAndGlyphs">Single Phenotype</text>
<text x="127.4" y="425.9" font-size="7.50" text-anchor="start" fill="#2a2a2a"  textLength="57.6" lengthAdjust="spacingAndGlyphs">Acute Leukemias</text>
<text x="142.9" y="434.6" font-size="7.50" text-anchor="start" fill="#2a2a2a"  textLength="26.5" lengthAdjust="spacingAndGlyphs">(<tspan font-style="italic">n</tspan> = 74)</text>
<text x="232.1" y="417.1" font-size="7.50" text-anchor="start" fill="#2a2a2a"  textLength="57.8" lengthAdjust="spacingAndGlyphs">Mixed Phenotype</text>
<text x="232.0" y="425.9" font-size="7.50" text-anchor="start" fill="#2a2a2a"  textLength="57.9" lengthAdjust="spacingAndGlyphs">Acute Leukemias</text>
<text x="247.5" y="434.6" font-size="7.50" text-anchor="start" fill="#2a2a2a"  textLength="26.7" lengthAdjust="spacingAndGlyphs">(<tspan font-style="italic">n</tspan> = 50)</text>
<circle cx="326.8" cy="372.2" r="6.8" fill="#b8325e" stroke="#a52a52" stroke-width="0.6"/>
<circle cx="318.6" cy="379.9" r="6.8" fill="#b8325e" stroke="#a52a52" stroke-width="0.6"/>
<circle cx="332.3" cy="381.1" r="6.8" fill="#b8325e" stroke="#a52a52" stroke-width="0.6"/>
<text x="315.8" y="400.2" font-size="7.50" text-anchor="start" fill="#c4387a"  textLength="19.9" lengthAdjust="spacingAndGlyphs">MPAL</text>
<line x1="309.1" y1="422.9" x2="342.0" y2="422.9" stroke="#1a1a1a" stroke-width="1.10"/>
<path d="M348.3,422.9 L340.4,419.3 L340.4,426.5 Z" fill="#1a1a1a"/>
<rect x="364.4" y="376.7" width="54.6" height="81.8" rx="3" fill="#ebafd8" stroke="#b8457f" stroke-width="0.9"/>
<text x="369.7" y="415.7" font-size="7.60" text-anchor="start" fill="#9c2e6c"  textLength="43.8" lengthAdjust="spacingAndGlyphs">MPAL-DMRs</text>
<text x="372.6" y="424.1" font-size="7.60" text-anchor="start" fill="#9c2e6c"  textLength="38.0" lengthAdjust="spacingAndGlyphs">(<tspan font-style="italic">n</tspan> = 2204)</text>
<text x="2.1" y="506.9" font-size="11.80" text-anchor="start" fill="#111" font-weight="bold">D</text>
<text x="91.9" y="517.2" font-size="9.10" text-anchor="start" fill="#2a2a2a"  textLength="110.9" lengthAdjust="spacingAndGlyphs">Enrichment in MPAL-DMRs</text>
<text x="124.5" y="528.1" font-size="9.10" text-anchor="start" fill="#2a2a2a"  textLength="44.8" lengthAdjust="spacingAndGlyphs">(<tspan font-style="italic">n</tspan> = 2204)</text>
<rect x="101.6" y="542.7" width="71.3" height="12.1" fill="#c81a80"/>
<line x1="98.1" y1="548.7" x2="101.6" y2="548.7" stroke="#333" stroke-width="0.80"/>
<text x="23.8" y="551.3" font-size="7.90" text-anchor="start" fill="#2a2a2a"  textLength="71.4" lengthAdjust="spacingAndGlyphs">H3K27ME3 in ESCs</text>
<rect x="101.6" y="563.5" width="71.3" height="12.1" fill="#c81a80"/>
<line x1="98.1" y1="569.5" x2="101.6" y2="569.5" stroke="#333" stroke-width="0.80"/>
<text x="12.8" y="572.1" font-size="7.90" text-anchor="start" fill="#2a2a2a"  textLength="82.4" lengthAdjust="spacingAndGlyphs">SUZ12 Targets in ESCs</text>
<rect x="101.6" y="584.5" width="78.8" height="12.1" fill="#c81a80"/>
<line x1="98.1" y1="590.5" x2="101.6" y2="590.5" stroke="#333" stroke-width="0.80"/>
<text x="22.0" y="592.8" font-size="7.90" text-anchor="start" fill="#2a2a2a"  textLength="73.2" lengthAdjust="spacingAndGlyphs">EED Targets in ESCs</text>
<rect x="101.6" y="605.6" width="59.4" height="12.1" fill="#c81a80"/>
<line x1="98.1" y1="611.6" x2="101.6" y2="611.6" stroke="#333" stroke-width="0.80"/>
<text x="16.5" y="613.6" font-size="7.90" text-anchor="start" fill="#2a2a2a"  textLength="78.7" lengthAdjust="spacingAndGlyphs">PRC2 Targets in ESCs</text>
<line x1="101.6" y1="533.6" x2="101.6" y2="625.7" stroke="#222" stroke-width="0.90"/>
<line x1="101.2" y1="625.7" x2="194.0" y2="625.7" stroke="#222" stroke-width="0.90"/>
<line x1="101.6" y1="625.7" x2="101.6" y2="628.2" stroke="#222" stroke-width="0.80"/>
<text x="101.6" y="639.3" font-size="8.00" text-anchor="middle" fill="#2a2a2a" >0</text>
<line x1="124.4" y1="625.7" x2="124.4" y2="628.2" stroke="#222" stroke-width="0.80"/>
<text x="124.4" y="639.3" font-size="8.00" text-anchor="middle" fill="#2a2a2a" >5</text>
<line x1="147.3" y1="625.7" x2="147.3" y2="628.2" stroke="#222" stroke-width="0.80"/>
<text x="147.3" y="639.3" font-size="8.00" text-anchor="middle" fill="#2a2a2a" >10</text>
<line x1="170.2" y1="625.7" x2="170.2" y2="628.2" stroke="#222" stroke-width="0.80"/>
<text x="170.2" y="639.3" font-size="8.00" text-anchor="middle" fill="#2a2a2a" >15</text>
<line x1="193.0" y1="625.7" x2="193.0" y2="628.2" stroke="#222" stroke-width="0.80"/>
<text x="193.0" y="639.3" font-size="8.00" text-anchor="middle" fill="#2a2a2a" >20</text>
<text x="104.1" y="651.5" font-size="9.2" fill="#2a2a2a" textLength="85.9" lengthAdjust="spacingAndGlyphs">Enrichment (-log10(<tspan font-style="italic">P</tspan> value))</text>
<text x="220.3" y="507.2" font-size="11.80" text-anchor="start" fill="#111" font-weight="bold">E</text>
<text x="231.6" y="526.0" font-size="7.70" text-anchor="start" fill="#c42a80"  textLength="44.3" lengthAdjust="spacingAndGlyphs">MPAL-DMRs</text>
<circle cx="321.3" cy="577.7" r="62.7" fill="#c51a80"/>
<circle cx="391.5" cy="577.35" r="20.4" fill="#f08068" stroke="#f6a890" stroke-width="0.5"/>
<circle cx="391.5" cy="577.35" r="20.4" fill="#e6486a" stroke="#f3a0b0" stroke-width="0.6" clip-path="url(#cpE)"/>
<circle cx="321.3" cy="577.7" r="62.7" fill="none" stroke="#f6b4c0" stroke-width="0.7" clip-path="url(#cpS)"/>
<text x="312.0" y="580.9" font-size="8.40" text-anchor="start" fill="#fff"  textLength="18.7" lengthAdjust="spacingAndGlyphs">2134</text>
<text x="375.1" y="581.8" font-size="7.80" text-anchor="start" fill="#fff"  textLength="8.7" lengthAdjust="spacingAndGlyphs">70</text>
<text x="391.7" y="581.8" font-size="7.80" text-anchor="start" fill="#fff"  textLength="13.0" lengthAdjust="spacingAndGlyphs">160</text>
<text x="392.1" y="552.7" font-size="7.70" text-anchor="start" fill="#ef957c"  textLength="40.0" lengthAdjust="spacingAndGlyphs">PNR-DMRs</text>
<text x="383.8" y="609.0" font-size="7.70" text-anchor="start" fill="#d9416c"  textLength="48.3" lengthAdjust="spacingAndGlyphs">Shared DMRs</text>
<text x="383.2" y="619.3" font-size="7.80" text-anchor="start" fill="#2a2a2a"  textLength="135.6" lengthAdjust="spacingAndGlyphs">SUZ12&#160; Targets in ESCs (<tspan font-style="italic">P</tspan>&#160; = 8.65E-9)</text>
<text x="383.2" y="630.4" font-size="7.80" text-anchor="start" fill="#2a2a2a"  textLength="132.1" lengthAdjust="spacingAndGlyphs">JARID2 Targets in ESCs (<tspan font-style="italic">P</tspan> = 3.93E-8)</text>
<text x="383.2" y="641.7" font-size="7.80" text-anchor="start" fill="#2a2a2a"  textLength="126.7" lengthAdjust="spacingAndGlyphs">EZH2 Targets in ESCs (<tspan font-style="italic">P</tspan> = 8.41E-7)</text>
<text x="383.2" y="652.7" font-size="7.80" text-anchor="start" fill="#2a2a2a"  textLength="123.5" lengthAdjust="spacingAndGlyphs">EED Targets in ESCs (<tspan font-style="italic">P</tspan> = 8.95E-7)</text>
</svg>
</body></html>
